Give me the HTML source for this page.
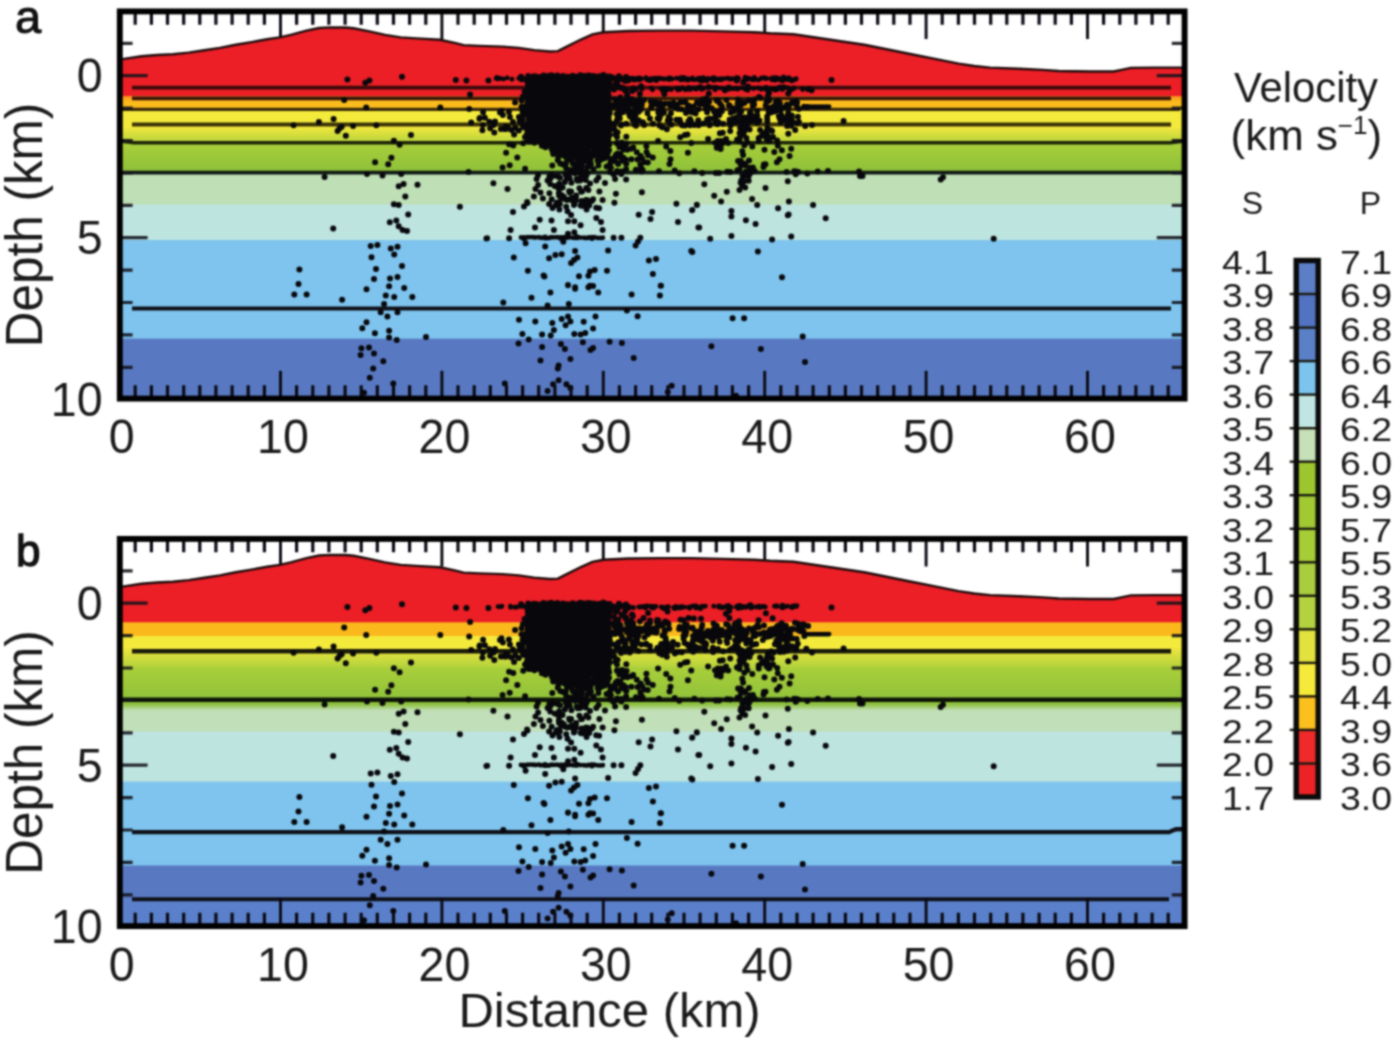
<!DOCTYPE html>
<html><head><meta charset="utf-8"><title>Velocity models</title>
<style>html,body{margin:0;padding:0;background:#fff}svg{display:block}</style></head>
<body>
<svg width="1400" height="1043" viewBox="0 0 1400 1043" font-family="'Liberation Sans', Arial, sans-serif" fill="#1a1a1a">
<defs>
<filter id="bl" x="0" y="0" width="1400" height="1043" filterUnits="userSpaceOnUse" color-interpolation-filters="sRGB"><feConvolveMatrix order="5" kernelMatrix="0.0016 0.0096 0.0176 0.0096 0.0016 0.0096 0.0576 0.1056 0.0576 0.0096 0.0176 0.1056 0.1936 0.1056 0.0176 0.0096 0.0576 0.1056 0.0576 0.0096 0.0016 0.0096 0.0176 0.0096 0.0016" edgeMode="duplicate" preserveAlpha="true"/></filter>
<linearGradient id="gOr" x1="0" y1="0" x2="0" y2="1"><stop offset="0" stop-color="#f58a20"/><stop offset="0.35" stop-color="#fbb81c"/><stop offset="1" stop-color="#fbc21c"/></linearGradient>
<linearGradient id="gYG" x1="0" y1="0" x2="0" y2="1"><stop offset="0" stop-color="#efe63e"/><stop offset="1" stop-color="#b2d23c"/></linearGradient>
<linearGradient id="gGr" x1="0" y1="0" x2="0" y2="1"><stop offset="0" stop-color="#aacf3a"/><stop offset="1" stop-color="#8cc03a"/></linearGradient>
<linearGradient id="gGP" x1="0" y1="0" x2="0" y2="1"><stop offset="0" stop-color="#8cc03a"/><stop offset="1" stop-color="#c1dfb8"/></linearGradient>
</defs>
<g filter="url(#bl)">
<rect width="1400" height="1043" fill="#fff"/>
<clipPath id="ca"><rect x="119.8" y="11.4" width="1064.8" height="387.20000000000005"/></clipPath>
<g clip-path="url(#ca)">
<rect x="117.8" y="20.0" width="1068.8" height="76.6" fill="#ec1e26"/>
<rect x="117.8" y="96.0" width="1068.8" height="14.1" fill="url(#gOr)"/>
<rect x="117.8" y="109.5" width="1068.8" height="19.1" fill="#f4ea3c"/>
<rect x="117.8" y="128.0" width="1068.8" height="15.2" fill="url(#gYG)"/>
<rect x="117.8" y="142.6" width="1068.8" height="30.5" fill="url(#gGr)"/>
<rect x="117.8" y="172.5" width="1068.8" height="32.6" fill="#bfdfb6"/>
<rect x="117.8" y="204.5" width="1068.8" height="36.1" fill="#bee4e0"/>
<rect x="117.8" y="240.0" width="1068.8" height="99.2" fill="#7ec4ee"/>
<rect x="117.8" y="338.6" width="1068.8" height="62.0" fill="#5879c2"/>
<polygon points="114.8,6.4 116.0,60.0 124.1,58.9 141.4,56.3 157.1,55.0 172.9,54.2 188.6,52.6 204.3,50.3 220.0,47.9 235.7,44.8 251.4,42.1 267.1,39.3 279.7,37.4 290.7,34.9 306.4,30.6 319.0,28.0 330.0,27.4 345.7,27.5 353.6,28.3 369.3,31.4 385.0,34.9 400.7,37.4 416.4,38.4 440.0,39.8 455.7,43.2 463.6,45.1 479.3,45.9 502.8,46.6 518.6,47.9 534.3,50.1 550.0,51.5 557.9,51.1 565.7,47.1 581.4,39.3 592.4,34.3 603.4,32.2 628.6,31.0 660.0,30.6 691.4,30.6 722.8,31.4 754.2,32.2 770.0,33.3 793.6,34.3 817.1,37.7 840.7,41.2 864.3,44.8 887.9,49.5 911.4,54.2 935.0,58.9 958.6,63.6 974.3,66.0 990.0,67.6 1019.3,68.8 1042.8,69.9 1058.6,71.0 1090.0,71.5 1113.6,71.5 1121.4,69.9 1130.8,67.9 1152.8,67.6 1190.0,67.6 1189.6,6.4" fill="#fff"/>
<path d="M280.5,13.4v25.6" stroke="#0a0a12" stroke-width="2.9" fill="none"/>
<path d="M441.9,13.4v25.6" stroke="#0a0a12" stroke-width="2.9" fill="none"/>
<path d="M603.3,13.4v25.6" stroke="#0a0a12" stroke-width="2.9" fill="none"/>
<path d="M764.7,13.4v25.6" stroke="#0a0a12" stroke-width="2.9" fill="none"/>
<path d="M926.1,13.4v25.6" stroke="#0a0a12" stroke-width="2.9" fill="none"/>
<path d="M1087.5,13.4v25.6" stroke="#0a0a12" stroke-width="2.9" fill="none"/>
<polygon points="116.0,60.0 124.1,58.9 141.4,56.3 157.1,55.0 172.9,54.2 188.6,52.6 204.3,50.3 220.0,47.9 235.7,44.8 251.4,42.1 267.1,39.3 279.7,37.4 290.7,34.9 306.4,30.6 319.0,28.0 330.0,27.4 345.7,27.5 353.6,28.3 369.3,31.4 385.0,34.9 400.7,37.4 416.4,38.4 440.0,39.8 455.7,43.2 463.6,45.1 479.3,45.9 502.8,46.6 518.6,47.9 534.3,50.1 550.0,51.5 557.9,51.1 565.7,47.1 581.4,39.3 592.4,34.3 603.4,32.2 628.6,31.0 660.0,30.6 691.4,30.6 722.8,31.4 754.2,32.2 770.0,33.3 793.6,34.3 817.1,37.7 840.7,41.2 864.3,44.8 887.9,49.5 911.4,54.2 935.0,58.9 958.6,63.6 974.3,66.0 990.0,67.6 1019.3,68.8 1042.8,69.9 1058.6,71.0 1090.0,71.5 1113.6,71.5 1121.4,69.9 1130.8,67.9 1152.8,67.6 1190.0,67.6 1189.6,82 114.8,82" fill="#ec1e26"/>
<polyline points="116.0,60.0 124.1,58.9 141.4,56.3 157.1,55.0 172.9,54.2 188.6,52.6 204.3,50.3 220.0,47.9 235.7,44.8 251.4,42.1 267.1,39.3 279.7,37.4 290.7,34.9 306.4,30.6 319.0,28.0 330.0,27.4 345.7,27.5 353.6,28.3 369.3,31.4 385.0,34.9 400.7,37.4 416.4,38.4 440.0,39.8 455.7,43.2 463.6,45.1 479.3,45.9 502.8,46.6 518.6,47.9 534.3,50.1 550.0,51.5 557.9,51.1 565.7,47.1 581.4,39.3 592.4,34.3 603.4,32.2 628.6,31.0 660.0,30.6 691.4,30.6 722.8,31.4 754.2,32.2 770.0,33.3 793.6,34.3 817.1,37.7 840.7,41.2 864.3,44.8 887.9,49.5 911.4,54.2 935.0,58.9 958.6,63.6 974.3,66.0 990.0,67.6 1019.3,68.8 1042.8,69.9 1058.6,71.0 1090.0,71.5 1113.6,71.5 1121.4,69.9 1130.8,67.9 1152.8,67.6 1190.0,67.6" fill="none" stroke="#1e0c0c" stroke-width="2.4"/>
<line x1="132" y1="87.7" x2="1171" y2="87.7" stroke="#3a0a0a" stroke-width="3.8"/>
<line x1="132" y1="98.4" x2="1171" y2="98.4" stroke="#3a1408" stroke-width="3.8"/>
<line x1="122" y1="109.3" x2="1180" y2="109.3" stroke="#3a2a08" stroke-width="3.2"/>
<line x1="132" y1="124.5" x2="1171" y2="124.5" stroke="#3a3208" stroke-width="3.8"/>
<polyline points="119.8,141 134,142.8 1170,142.8 1184.6,141" fill="none" stroke="#1c2208" stroke-width="3.4"/>
<line x1="119.8" y1="172.6" x2="1184.6" y2="172.6" stroke="#101a14" stroke-width="3.8"/>
<line x1="132" y1="308.5" x2="1171" y2="308.5" stroke="#0e1018" stroke-width="4.2"/>
</g>
<g clip-path="url(#ca)"><path d="M347.4,79.6h0M365.3,82.8h0M369.4,80.4h0M402.0,76.8h0M455.8,79.9h0M466.4,80.4h0M488.4,80.4h0M470.1,94.5h0M344.2,99.9h0M366.2,107.6h0M440.3,107.6h0M469.2,108.9h0M293.6,125.2h0M318.9,121.9h0M333.6,119.0h0M341.7,126.8h0M337.6,130.9h0M339.5,128.5h0M345.8,135.8h0M353.1,126.0h0M376.3,125.2h0M411.0,135.0h0M393.9,140.7h0M399.6,144.7h0M391.4,157.8h0M388.2,164.3h0M375.1,162.3h0M324.6,177.0h0M367.0,174.1h0M382.5,175.4h0M401.2,174.1h0M468.5,172.1h0M398.7,186.3h0M403.6,183.9h0M417.5,184.7h0M405.3,196.6h0M393.9,204.2h0M398.7,205.0h0M459.9,206.7h0M408.2,214.5h0M389.8,222.2h0M396.3,220.5h0M398.7,226.2h0M333.2,228.6h0M402.6,230.0h0M407.0,231.0h0M486.4,238.4h0M370.7,246.0h0M377.4,245.1h0M390.8,248.5h0M397.5,246.8h0M394.2,254.4h0M371.5,257.2h0M299.4,269.5h0M376.0,269.0h0M402.0,266.1h0M374.0,279.0h0M390.0,278.4h0M397.5,277.0h0M298.5,284.1h0M366.5,289.3h0M389.1,286.2h0M404.2,287.9h0M294.3,294.6h0M306.6,294.6h0M342.1,299.7h0M385.8,295.5h0M394.2,297.1h0M412.3,297.1h0M384.1,303.9h0M380.7,312.2h0M387.4,316.4h0M397.5,312.2h0M366.5,322.3h0M362.3,328.2h0M374.9,333.2h0M389.1,330.7h0M389.1,337.4h0M396.7,339.9h0M426.0,337.1h0M361.4,348.3h0M360.6,355.0h0M369.0,347.5h0M374.0,353.4h0M383.3,361.2h0M373.2,368.5h0M369.8,377.7h0M393.3,383.6h0M364.0,392.8h0M493.4,183.3h0M507.5,189.1h0M538.1,185.1h0M536.6,178.9h0M547.6,180.4h0M558.6,186.7h0M564.9,182.0h0M571.1,191.4h0M577.4,180.4h0M582.1,191.4h0M590.0,183.6h0M596.3,180.4h0M599.4,191.4h0M615.1,178.9h0M626.1,179.6h0M621.4,174.1h0M615.9,193.8h0M641.9,192.2h0M542.9,198.5h0M549.1,204.0h0M557.0,202.4h0M559.4,209.5h0M569.6,199.3h0M574.3,204.0h0M580.6,205.6h0M586.9,202.4h0M593.1,199.3h0M602.6,200.1h0M614.4,202.7h0M676.4,203.7h0M696.8,204.8h0M692.1,210.3h0M527.1,202.1h0M524.0,206.4h0M513.0,211.9h0M638.7,214.7h0M652.1,211.9h0M650.5,218.9h0M571.1,215.0h0M568.0,221.3h0M574.3,221.3h0M580.6,225.2h0M596.3,218.1h0M601.0,222.1h0M539.7,219.7h0M535.0,227.6h0M551.5,220.5h0M553.9,229.9h0M678.0,222.1h0M698.4,227.6h0M510.6,229.9h0M602.6,229.9h0M487.1,238.3h0M509.1,238.3h0M574.3,232.3h0M568.0,233.8h0M613.6,237.8h0M621.4,237.8h0M640.3,237.8h0M635.6,245.6h0M638.0,241.5h0M525.6,243.3h0M545.2,246.4h0M563.3,241.7h0M608.1,250.4h0M691.3,251.1h0M513.8,257.4h0M549.1,258.2h0M555.4,255.1h0M561.7,254.3h0M575.1,251.1h0M577.4,257.4h0M571.1,262.9h0M574.0,260.0h0M648.9,260.6h0M656.0,259.0h0M527.9,270.8h0M543.6,275.5h0M579.0,276.3h0M590.0,271.6h0M594.7,270.0h0M607.0,270.8h0M652.9,273.9h0M568.0,284.9h0M575.1,287.3h0M590.0,285.7h0M660.7,285.7h0M544.4,276.6h0M588.4,275.8h0M568.0,285.2h0M575.1,288.8h0M588.4,287.3h0M593.1,286.0h0M598.2,292.6h0M661.0,285.7h0M659.9,295.4h0M550.4,292.6h0M531.5,297.8h0M631.6,294.6h0M503.3,302.5h0M547.6,305.6h0M568.8,304.1h0M626.9,310.4h0M637.6,316.2h0M519.0,319.8h0M535.3,321.4h0M595.5,316.6h0M561.7,319.0h0M568.0,316.6h0M565.6,325.3h0M570.4,321.4h0M552.3,322.9h0M553.9,330.0h0M550.7,335.5h0M583.7,321.8h0M593.1,328.4h0M522.4,333.9h0M528.7,339.4h0M542.1,334.4h0M574.3,333.9h0M580.6,334.4h0M585.3,333.1h0M518.5,343.4h0M542.1,347.0h0M560.9,344.1h0M564.9,348.9h0M582.9,342.3h0M593.1,348.1h0M590.5,350.0h0M609.6,341.8h0M621.9,342.9h0M633.7,358.0h0M540.5,360.6h0M570.4,359.1h0M558.6,365.4h0M557.8,368.5h0M558.6,380.3h0M553.1,384.2h0M566.4,384.2h0M570.4,388.1h0M547.6,391.0h0M504.8,383.4h0M671.7,385.8h0M667.8,392.1h0M704.3,184.2h0M714.2,195.7h0M721.1,201.4h0M726.8,191.7h0M739.5,189.9h0M745.2,187.6h0M748.7,180.7h0M748.7,176.1h0M765.5,188.1h0M787.8,181.2h0M752.1,199.1h0M757.2,204.9h0M788.9,201.4h0M778.1,208.3h0M787.8,215.2h0M788.6,214.4h0M813.1,204.9h0M825.7,218.2h0M696.9,204.9h0M692.3,210.1h0M731.4,211.1h0M731.4,216.4h0M745.9,220.3h0M755.6,224.0h0M699.2,227.4h0M710.2,238.7h0M731.4,235.9h0M772.1,239.4h0M791.2,236.4h0M692.3,252.0h0M757.9,251.6h0M782.0,277.3h0M732.6,318.3h0M744.1,318.3h0M802.7,336.4h0M711.4,346.3h0M760.9,349.1h0M805.0,362.0h0M862.5,176.1h0M859.1,171.5h0M940.7,179.6h0M943.0,177.3h0M993.7,238.7h0M730.3,172.0h0M786.6,172.0h0M798.1,172.0h0M807.3,173.5h0M817.7,171.5h0M828.0,171.0h0M736.0,395.8h0M831.5,79.9h0M860.0,176.0h0M524.0,238.2h0M545.0,237.4h0M561.0,238.0h0M577.0,237.2h0M592.0,238.0h0M843.6,121.0h0M812.0,125.0h0M777.2,140.5h0M763.0,134.5h0M528.2,75.9h0M531.7,76.9h0M533.9,76.3h0M536.1,76.4h0M540.3,77.0h0M543.6,75.6h0M545.8,76.3h0M548.0,75.9h0M551.3,75.2h0M554.1,76.5h0M557.3,75.5h0M560.8,76.7h0M563.2,75.9h0M567.1,76.8h0M570.6,76.7h0M572.6,75.8h0M575.7,76.8h0M579.9,75.3h0M581.4,75.5h0M584.5,76.0h0M588.2,75.5h0M590.0,75.8h0M593.7,76.1h0M597.9,76.4h0M600.0,76.2h0M603.4,75.1h0M606.8,76.6h0M609.7,76.6h0M527.8,78.8h0M530.2,79.3h0M533.1,78.1h0M536.4,78.3h0M539.7,78.1h0M542.0,78.3h0M545.2,78.7h0M548.1,79.7h0M552.2,78.3h0M554.5,78.7h0M557.7,78.2h0M561.7,80.0h0M563.9,79.0h0M566.2,78.2h0M569.7,78.5h0M573.7,78.3h0M575.0,79.9h0M579.1,78.3h0M582.1,78.1h0M585.1,80.0h0M588.7,79.4h0M590.5,78.7h0M593.3,79.5h0M597.1,79.6h0M599.7,78.4h0M603.6,80.0h0M606.7,79.6h0M609.6,79.5h0M527.5,82.0h0M530.7,81.1h0M533.1,81.6h0M536.5,82.4h0M540.9,81.9h0M543.9,83.0h0M546.9,81.7h0M548.4,81.5h0M551.4,81.4h0M555.2,82.8h0M558.7,82.0h0M561.3,82.6h0M563.2,82.3h0M567.8,82.6h0M570.5,82.0h0M572.4,82.6h0M575.7,82.6h0M579.9,81.8h0M581.8,82.9h0M585.4,81.3h0M587.3,81.3h0M591.8,82.6h0M593.3,82.7h0M598.0,82.3h0M599.7,82.1h0M602.3,81.0h0M606.9,82.3h0M609.1,82.9h0M527.9,85.7h0M531.7,84.4h0M533.5,84.6h0M536.5,85.2h0M539.5,84.8h0M542.3,85.8h0M545.7,84.9h0M549.2,85.8h0M551.8,85.8h0M555.0,85.1h0M558.0,84.0h0M560.9,84.4h0M563.0,85.6h0M566.3,84.9h0M570.5,85.1h0M572.7,85.0h0M576.1,85.6h0M578.2,85.1h0M581.5,84.6h0M585.5,85.0h0M588.1,85.5h0M591.8,84.9h0M594.2,85.0h0M597.0,85.4h0M599.9,85.1h0M603.0,85.9h0M606.4,85.8h0M609.9,84.5h0M528.1,88.9h0M531.7,87.3h0M533.2,87.9h0M536.1,87.5h0M539.1,88.3h0M543.6,88.8h0M545.3,88.4h0M549.3,87.3h0M552.8,88.9h0M554.4,88.9h0M557.8,88.0h0M562.0,88.7h0M563.3,87.9h0M567.0,87.7h0M569.4,87.6h0M573.4,87.0h0M576.1,87.9h0M578.0,87.7h0M582.2,88.0h0M584.1,89.0h0M588.6,88.9h0M590.2,87.5h0M593.1,88.6h0M596.5,87.3h0M599.8,88.8h0M603.6,87.5h0M605.3,88.8h0M609.1,88.4h0M527.2,90.1h0M531.4,90.9h0M533.1,91.9h0M537.3,91.6h0M539.2,91.7h0M542.1,91.7h0M545.9,90.7h0M549.1,91.9h0M551.5,90.3h0M555.1,90.5h0M557.2,90.3h0M560.1,90.4h0M563.6,90.6h0M567.5,90.6h0M570.0,90.4h0M572.7,90.0h0M575.5,90.0h0M579.5,91.1h0M581.4,90.9h0M585.9,90.2h0M588.6,90.9h0M591.0,91.7h0M593.8,91.0h0M597.4,92.0h0M599.7,91.7h0M603.4,91.3h0M605.8,90.7h0M608.1,90.3h0M527.1,94.5h0M530.5,93.3h0M533.2,94.7h0M537.7,94.3h0M539.6,93.5h0M542.6,93.9h0M545.3,93.9h0M548.5,94.9h0M552.9,94.1h0M554.5,94.9h0M557.6,93.7h0M560.0,93.8h0M563.9,94.0h0M566.4,94.0h0M569.0,93.5h0M572.2,93.8h0M575.1,93.0h0M578.6,93.5h0M582.2,94.1h0M585.5,94.3h0M588.4,94.8h0M590.8,93.7h0M595.0,93.3h0M597.4,94.3h0M599.1,94.7h0M603.8,94.3h0M606.5,94.6h0M608.3,94.0h0M528.0,97.7h0M531.6,97.7h0M534.2,97.8h0M537.4,97.4h0M539.5,96.1h0M542.3,96.7h0M545.2,97.7h0M549.1,97.3h0M552.3,97.4h0M555.0,96.0h0M558.6,97.5h0M561.0,97.1h0M564.3,96.1h0M567.5,96.5h0M569.1,96.5h0M573.5,96.4h0M576.5,98.0h0M579.0,96.8h0M582.0,97.4h0M585.5,97.2h0M588.3,96.2h0M590.3,96.5h0M594.5,96.6h0M597.1,96.0h0M599.1,96.5h0M603.3,97.4h0M606.4,96.6h0M609.0,96.9h0M527.9,99.2h0M531.8,99.4h0M535.0,100.9h0M536.0,99.9h0M540.6,100.9h0M542.9,99.5h0M545.4,100.9h0M548.4,100.2h0M551.3,100.0h0M555.9,99.3h0M558.6,100.0h0M561.8,100.4h0M563.5,100.8h0M567.0,99.0h0M569.0,100.0h0M572.9,99.6h0M575.3,99.7h0M578.6,100.7h0M581.0,100.5h0M585.7,99.2h0M588.9,100.4h0M591.8,99.6h0M593.7,99.8h0M598.0,100.2h0M599.7,99.9h0M602.6,99.1h0M605.2,100.7h0M608.6,100.9h0M527.5,102.5h0M531.0,102.4h0M533.7,103.9h0M537.8,103.6h0M540.3,103.8h0M543.9,103.1h0M546.4,102.1h0M549.5,102.9h0M552.5,103.3h0M554.6,102.1h0M558.9,102.3h0M560.9,102.7h0M563.6,103.5h0M568.0,102.5h0M570.3,102.6h0M573.1,102.8h0M575.3,102.3h0M578.4,103.8h0M582.0,102.4h0M585.8,104.0h0M587.9,102.3h0M590.4,102.2h0M593.7,102.2h0M596.5,102.5h0M600.1,103.8h0M603.5,102.8h0M605.8,103.0h0M608.8,102.7h0M527.1,105.6h0M531.9,105.3h0M534.0,106.3h0M537.7,105.4h0M539.5,105.5h0M542.8,105.9h0M546.9,106.7h0M549.7,105.0h0M551.1,106.4h0M555.8,105.9h0M558.2,105.0h0M560.8,106.9h0M564.7,106.7h0M567.9,105.5h0M569.2,105.3h0M573.0,106.4h0M576.9,106.4h0M579.3,106.5h0M581.9,106.1h0M584.1,106.6h0M587.5,106.8h0M591.3,105.6h0M593.3,105.5h0M597.3,106.4h0M599.2,105.1h0M603.0,106.2h0M605.8,105.4h0M609.2,105.0h0M527.6,108.9h0M531.9,109.3h0M534.8,109.0h0M536.5,108.5h0M540.9,109.4h0M542.6,108.0h0M546.0,109.3h0M548.8,108.5h0M552.3,109.9h0M554.5,108.1h0M557.7,108.8h0M561.4,108.4h0M564.6,109.5h0M567.0,108.4h0M570.9,108.6h0M573.6,108.5h0M575.4,109.5h0M578.6,109.9h0M582.0,108.4h0M584.4,108.8h0M588.3,109.9h0M590.3,108.8h0M593.4,109.9h0M596.3,108.1h0M599.1,108.8h0M603.8,109.8h0M606.5,110.0h0M609.9,108.7h0M527.4,112.9h0M531.5,111.1h0M534.3,111.8h0M536.7,111.7h0M539.3,111.0h0M542.6,111.7h0M546.9,111.2h0M549.9,111.4h0M551.7,112.6h0M555.6,111.9h0M557.1,111.9h0M560.7,112.8h0M563.4,111.7h0M567.8,111.1h0M569.8,112.6h0M573.5,111.1h0M575.1,111.1h0M579.8,111.5h0M582.5,112.8h0M584.7,111.5h0M588.9,112.2h0M590.5,112.4h0M593.6,111.6h0M596.0,112.5h0M600.8,112.3h0M603.9,111.0h0M605.5,112.0h0M609.9,112.9h0M527.8,114.5h0M530.9,115.0h0M534.9,114.4h0M537.6,115.5h0M540.6,115.5h0M543.2,114.7h0M545.6,114.7h0M549.6,114.2h0M551.4,115.5h0M554.5,114.1h0M557.1,115.1h0M560.7,116.0h0M564.8,116.0h0M566.5,114.2h0M569.2,115.0h0M573.4,114.9h0M575.5,114.8h0M579.2,115.3h0M582.5,115.7h0M585.3,114.2h0M588.7,114.6h0M591.1,114.7h0M594.5,114.4h0M596.5,114.5h0M599.3,115.8h0M603.2,114.7h0M605.8,116.0h0M609.0,114.5h0M528.6,118.3h0M532.0,117.2h0M533.9,118.6h0M537.7,118.8h0M539.1,117.6h0M542.2,117.4h0M546.9,118.2h0M549.9,117.7h0M552.7,117.9h0M554.5,118.6h0M558.9,117.2h0M561.2,118.2h0M563.4,117.7h0M566.3,117.4h0M569.5,118.2h0M573.3,117.4h0M575.0,117.7h0M579.4,117.4h0M581.6,117.4h0M585.6,118.1h0M587.1,117.2h0M590.8,118.1h0M594.3,117.2h0M596.3,118.4h0M599.8,117.6h0M602.6,118.9h0M605.6,118.1h0M608.7,117.8h0M528.7,122.0h0M530.7,120.4h0M534.5,120.4h0M536.0,121.8h0M539.8,121.6h0M542.8,121.8h0M545.9,120.3h0M548.0,121.1h0M552.3,121.8h0M554.2,121.2h0M557.7,121.0h0M560.3,120.6h0M564.0,121.9h0M566.2,121.0h0M570.6,121.9h0M572.4,120.3h0M576.9,122.0h0M579.0,120.1h0M582.9,120.8h0M585.8,121.2h0M588.6,120.3h0M591.6,120.4h0M593.8,121.7h0M597.7,120.4h0M599.4,120.8h0M603.0,120.8h0M605.2,120.5h0M609.4,121.8h0M527.1,124.1h0M531.5,123.1h0M534.7,123.2h0M537.2,124.1h0M540.3,123.6h0M542.8,124.2h0M545.9,124.3h0M548.9,123.9h0M551.0,124.2h0M555.0,123.5h0M558.5,124.6h0M560.9,123.4h0M563.9,123.2h0M566.3,123.9h0M569.2,123.9h0M573.0,123.1h0M576.3,123.2h0M579.5,124.6h0M582.0,123.1h0M585.0,123.8h0M588.9,123.3h0M591.7,125.0h0M594.5,124.6h0M596.4,125.0h0M600.0,124.9h0M603.8,123.3h0M606.6,124.9h0M608.1,123.7h0M528.5,126.3h0M531.8,126.5h0M534.6,126.3h0M537.0,127.8h0M539.4,126.5h0M543.0,126.6h0M545.1,126.4h0M548.3,127.9h0M552.4,127.8h0M554.3,127.6h0M557.2,127.1h0M561.3,126.7h0M564.7,127.1h0M567.2,127.8h0M569.2,128.0h0M573.3,126.8h0M576.6,126.5h0M580.0,127.2h0M581.7,127.5h0M584.9,126.4h0M588.5,126.1h0M591.6,126.5h0M594.3,128.0h0M597.2,127.3h0M599.6,126.0h0M602.1,126.3h0M606.2,126.9h0M609.0,127.8h0M527.3,129.5h0M531.3,129.0h0M533.0,129.7h0M536.2,129.7h0M539.4,130.2h0M543.2,129.4h0M546.2,129.9h0M548.3,130.9h0M551.5,129.3h0M554.2,130.3h0M558.7,130.6h0M560.8,129.5h0M563.0,130.3h0M567.1,129.7h0M570.3,129.9h0M573.9,130.5h0M575.5,130.8h0M578.1,130.1h0M581.8,129.5h0M584.1,130.6h0M587.0,130.1h0M591.9,129.3h0M593.4,130.2h0M597.0,130.3h0M600.6,129.3h0M602.6,129.6h0M605.1,130.8h0M609.6,130.4h0M527.0,133.7h0M531.5,132.9h0M534.5,132.9h0M536.5,132.2h0M539.5,132.1h0M542.7,133.5h0M546.4,133.7h0M549.4,132.5h0M552.1,132.9h0M555.6,133.0h0M557.5,133.3h0M561.9,132.4h0M564.8,132.0h0M566.5,132.5h0M570.5,133.9h0M573.5,132.7h0M576.8,132.7h0M578.5,133.8h0M582.3,133.4h0M585.3,134.0h0M587.9,133.7h0M591.4,133.7h0M593.9,133.4h0M597.1,132.6h0M599.4,133.2h0M602.2,133.8h0M605.3,132.1h0M608.2,133.9h0M527.7,135.3h0M530.1,135.1h0M534.4,136.3h0M537.4,136.5h0M539.1,136.2h0M542.7,136.6h0M546.6,136.8h0M548.1,136.7h0M552.8,136.9h0M554.2,135.4h0M557.2,135.1h0M561.7,136.6h0M564.3,136.7h0M567.3,135.6h0M569.2,135.2h0M573.5,135.4h0M575.6,135.8h0M578.0,135.5h0M581.6,136.4h0M584.7,135.6h0M588.9,136.0h0M591.7,136.2h0M593.1,135.8h0M596.9,136.5h0M599.7,136.4h0M603.1,135.4h0M606.7,135.2h0M609.6,135.3h0M527.0,138.4h0M531.5,140.0h0M533.0,139.0h0M537.0,139.6h0M539.4,139.0h0M542.7,139.7h0M545.5,139.9h0M548.6,138.4h0M552.4,139.0h0M554.2,139.3h0M557.2,139.6h0M561.4,139.6h0M564.3,138.7h0M566.8,138.8h0M570.8,138.2h0M573.8,138.1h0M575.4,138.5h0M579.8,139.0h0M581.8,139.8h0M584.5,138.9h0M588.1,139.5h0M591.5,139.3h0M593.7,138.7h0M596.3,139.7h0M600.3,139.5h0M602.3,138.9h0M606.5,139.2h0M608.3,138.9h0M528.8,141.5h0M530.4,141.6h0M534.4,142.7h0M536.3,141.3h0M539.5,141.7h0M543.0,141.3h0M545.7,141.4h0M550.0,142.5h0M551.2,142.9h0M554.2,141.8h0M559.0,142.6h0M561.5,141.9h0M563.4,142.3h0M566.2,141.4h0M569.8,141.1h0M572.8,142.6h0M576.4,142.0h0M579.3,141.9h0M581.3,142.2h0M584.8,142.5h0M588.8,141.9h0M591.1,142.5h0M593.8,141.5h0M597.4,142.8h0M600.5,142.4h0M603.7,142.4h0M606.3,141.9h0M608.6,142.3h0M541.9,145.8h0M545.5,144.3h0M548.0,145.4h0M551.7,146.3h0M554.6,145.8h0M557.1,146.4h0M560.3,144.0h0M564.5,145.1h0M566.4,145.1h0M569.2,145.4h0M574.9,146.3h0M578.7,144.7h0M580.0,146.5h0M582.8,144.3h0M585.7,144.8h0M590.7,144.6h0M592.3,145.7h0M598.3,145.9h0M601.3,143.9h0M606.1,145.4h0M545.5,147.2h0M551.7,149.0h0M556.7,148.1h0M561.3,147.6h0M566.0,147.3h0M568.4,146.5h0M571.7,147.2h0M575.3,147.8h0M578.8,147.6h0M588.3,149.2h0M594.3,148.4h0M594.9,149.4h0M598.6,146.8h0M601.5,148.8h0M604.3,149.2h0M552.7,151.3h0M558.7,151.9h0M564.1,151.1h0M570.7,151.2h0M571.7,149.9h0M574.2,150.9h0M578.5,151.0h0M582.6,149.5h0M587.7,151.5h0M593.3,152.4h0M596.9,151.4h0M599.9,151.5h0M553.2,154.0h0M555.9,152.6h0M560.2,155.1h0M563.7,154.1h0M569.5,153.8h0M573.7,153.4h0M578.7,153.3h0M583.2,154.5h0M587.2,153.4h0M591.1,154.9h0M594.4,155.2h0M595.4,153.4h0M598.8,155.3h0M603.2,154.9h0M558.3,157.4h0M564.5,156.1h0M566.8,157.8h0M569.0,155.6h0M578.5,158.0h0M584.2,156.4h0M587.4,156.8h0M592.2,155.7h0M592.6,155.9h0M601.2,156.8h0M557.8,160.3h0M566.9,158.8h0M569.3,159.0h0M571.6,160.6h0M577.5,158.8h0M580.7,160.7h0M585.8,159.1h0M589.0,160.6h0M597.5,160.6h0M601.4,159.3h0M565.9,163.5h0M572.8,163.7h0M577.4,163.0h0M578.9,163.2h0M582.9,161.9h0M588.8,163.4h0M591.0,163.9h0M563.9,164.7h0M576.9,167.4h0M582.0,165.8h0M589.1,166.3h0M566.2,168.3h0M571.0,169.9h0M577.7,169.9h0M582.1,170.1h0M593.5,169.2h0M574.7,173.3h0M577.3,172.5h0M579.1,171.3h0M587.7,172.9h0M609.2,144.8h0M562.9,164.6h0M576.4,157.7h0M572.0,150.1h0M592.3,145.9h0M559.0,146.7h0M571.9,155.1h0M577.8,150.3h0M573.1,155.3h0M553.3,147.4h0M590.4,159.9h0M567.8,157.6h0M583.5,156.0h0M626.6,143.4h0M549.1,144.6h0M576.1,144.4h0M552.3,165.5h0M582.3,157.1h0M587.7,166.9h0M593.9,145.3h0M583.0,145.1h0M605.0,147.9h0M595.2,148.2h0M617.6,153.5h0M602.8,152.3h0M570.7,149.9h0M595.4,146.9h0M549.2,145.5h0M608.0,150.3h0M560.8,148.2h0M606.1,151.8h0M585.6,171.5h0M596.7,143.5h0M549.6,145.4h0M598.4,165.5h0M607.2,157.0h0M571.6,149.7h0M583.9,161.2h0M603.5,143.4h0M600.1,160.2h0M570.8,150.3h0M579.4,159.6h0M571.8,149.1h0M594.8,152.0h0M585.7,153.5h0M597.4,151.4h0M604.5,158.3h0M581.1,144.6h0M593.1,146.3h0M619.3,147.0h0M586.8,153.5h0M569.8,147.6h0M618.9,144.9h0M565.0,153.8h0M560.4,153.3h0M560.3,163.4h0M589.0,145.6h0M609.1,150.2h0M568.3,150.2h0M591.3,145.4h0M569.0,150.4h0M573.4,147.0h0M575.5,167.7h0M561.1,149.8h0M588.6,143.6h0M586.5,146.7h0M606.8,143.6h0M583.9,154.8h0M576.1,157.4h0M626.5,148.8h0M609.9,171.9h0M635.9,169.8h0M626.1,169.0h0M624.9,144.7h0M621.3,171.4h0M617.1,143.5h0M623.9,147.1h0M616.9,143.1h0M625.6,148.4h0M615.6,155.6h0M625.6,159.6h0M619.8,147.0h0M626.4,163.6h0M631.3,148.7h0M624.3,160.6h0M623.2,157.4h0M621.4,160.8h0M626.0,163.5h0M625.0,148.9h0M549.4,176.4h0M567.2,200.0h0M552.7,176.0h0M574.4,204.3h0M555.6,205.1h0M566.2,206.8h0M569.1,191.2h0M577.7,180.7h0M559.9,203.9h0M562.6,187.4h0M576.1,195.4h0M588.4,190.0h0M569.6,192.6h0M587.4,203.4h0M586.4,205.2h0M558.1,187.7h0M591.8,201.0h0M599.1,208.3h0M581.2,191.8h0M549.4,193.3h0M567.4,174.7h0M580.1,180.6h0M566.7,177.7h0M568.9,175.1h0M598.5,177.5h0M565.7,174.6h0M559.0,195.6h0M551.7,199.3h0M560.0,177.7h0M586.4,175.6h0M550.4,178.4h0M550.2,184.1h0M569.8,178.4h0M561.8,195.3h0M573.9,205.0h0M581.6,200.9h0M585.7,179.9h0M586.3,188.0h0M535.5,189.1h0M579.4,188.2h0M552.5,207.9h0M571.4,182.7h0M554.7,186.1h0M527.5,203.0h0M586.8,206.9h0M581.3,175.9h0M540.5,192.6h0M605.0,183.0h0M559.2,189.2h0M558.8,193.1h0M557.7,176.5h0M551.7,174.7h0M576.7,179.0h0M596.2,207.7h0M563.8,196.8h0M581.1,205.8h0M538.0,175.2h0M561.1,198.4h0M559.2,183.8h0M533.9,196.4h0M571.6,200.0h0M567.5,211.2h0M575.8,200.6h0M572.6,197.9h0M589.2,205.5h0M587.4,200.3h0M574.1,203.5h0M572.0,198.0h0M575.9,198.1h0M574.5,200.6h0M585.9,199.9h0M586.6,209.4h0M582.9,205.8h0M565.2,199.2h0M522.9,125.7h0M519.9,118.9h0M524.5,108.8h0M524.6,91.5h0M522.5,111.9h0M521.1,76.8h0M521.6,100.7h0M523.6,115.0h0M523.2,110.4h0M522.8,96.7h0M511.5,130.0h0M525.0,137.0h0M524.4,106.8h0M521.4,106.8h0M524.1,127.5h0M523.2,143.2h0M515.1,102.5h0M501.5,110.8h0M513.0,121.9h0M518.9,130.5h0M507.6,127.0h0M515.3,127.9h0M506.2,129.0h0M514.1,134.4h0M494.3,132.6h0M490.1,128.2h0M509.9,116.9h0M522.7,120.0h0M504.2,128.9h0M519.7,121.5h0M502.9,115.0h0M505.6,126.4h0M500.0,112.4h0M508.9,112.1h0M500.9,129.1h0M518.9,117.0h0M513.3,145.5h0M509.1,144.3h0M517.3,157.4h0M502.6,167.6h0M509.7,165.3h0M525.1,168.8h0M506.1,152.8h0M527.3,140.3h0M471.2,122.4h0M482.4,130.2h0M489.3,121.8h0M495.0,121.4h0M482.9,125.1h0M479.7,117.9h0M484.9,117.7h0M493.7,124.9h0M483.1,112.2h0M479.4,118.8h0M618.0,117.5h0M633.2,147.4h0M623.2,112.0h0M627.3,149.7h0M618.7,101.4h0M632.9,88.6h0M616.8,99.5h0M633.4,113.9h0M615.8,84.2h0M626.3,136.7h0M623.4,149.3h0M621.8,87.6h0M620.4,97.5h0M626.0,89.9h0M614.0,89.5h0M623.2,102.1h0M623.9,149.5h0M615.1,106.4h0M615.4,134.3h0M618.9,76.3h0M628.8,98.5h0M621.0,125.4h0M625.2,90.6h0M627.0,95.7h0M613.2,123.9h0M649.9,118.5h0M620.4,106.4h0M617.6,132.2h0M617.4,83.9h0M618.4,114.7h0M617.0,136.9h0M628.1,80.6h0M626.0,76.9h0M614.3,128.9h0M622.6,102.2h0M617.2,83.4h0M620.6,142.9h0M621.9,109.3h0M618.0,104.5h0M634.8,119.1h0M620.8,147.0h0M627.2,94.5h0M618.7,79.3h0M632.6,99.3h0M622.1,142.5h0M616.8,120.6h0M621.6,147.0h0M639.9,94.0h0M613.8,104.8h0M614.5,98.9h0M644.4,162.1h0M640.7,156.1h0M612.8,159.0h0M613.4,174.3h0M618.1,164.0h0M610.2,163.3h0M622.4,160.1h0M607.9,153.1h0M642.2,158.8h0M616.0,154.8h0M617.8,155.9h0M606.6,166.6h0M620.4,153.9h0M636.8,152.3h0M617.1,170.9h0M610.8,161.1h0M642.6,170.1h0M612.2,158.8h0M637.5,159.4h0M648.1,155.2h0M647.8,162.6h0M615.2,161.3h0M610.9,167.7h0M616.7,172.5h0M631.4,159.2h0M739.9,137.7h0M740.6,182.8h0M741.0,128.8h0M737.4,139.5h0M742.5,175.6h0M738.1,160.9h0M747.4,142.4h0M741.5,132.7h0M744.2,181.3h0M740.1,127.8h0M749.0,160.5h0M739.6,141.4h0M747.1,124.7h0M741.8,129.1h0M746.0,171.6h0M742.1,185.4h0M747.5,175.8h0M749.6,129.5h0M737.0,139.9h0M749.7,167.8h0M744.3,145.3h0M737.4,170.3h0M746.4,137.9h0M745.4,165.3h0M739.6,133.1h0M750.4,172.9h0M749.6,171.3h0M744.2,131.7h0M743.3,134.3h0M741.6,122.8h0M747.2,142.4h0M741.2,180.4h0M740.8,161.1h0M742.3,151.3h0M739.6,169.3h0M742.9,180.1h0M743.2,175.9h0M742.7,181.5h0M744.3,163.7h0M746.2,128.0h0M721.9,143.7h0M723.2,142.5h0M729.6,122.6h0M719.6,142.4h0M717.2,144.9h0M720.7,148.4h0M722.7,132.7h0M726.6,142.2h0M718.4,144.9h0M718.0,121.6h0M717.8,140.9h0M716.7,147.8h0M723.1,123.8h0M721.1,141.1h0M719.8,144.2h0M720.6,149.1h0M726.0,139.1h0M718.1,121.8h0M768.8,141.1h0M766.6,139.0h0M772.1,131.1h0M767.6,135.7h0M761.4,135.9h0M763.5,167.1h0M769.4,140.8h0M766.2,131.4h0M781.9,150.3h0M764.5,149.7h0M779.5,159.2h0M774.3,151.9h0M777.8,145.8h0M771.1,130.2h0M758.7,138.0h0M767.4,127.7h0M684.9,135.1h0M752.3,146.6h0M658.1,140.9h0M715.0,142.7h0M666.9,129.3h0M641.7,171.6h0M760.1,129.9h0M754.7,171.1h0M730.2,131.0h0M718.2,146.0h0M670.4,151.0h0M641.3,168.3h0M743.1,154.9h0M789.6,156.0h0M680.2,137.3h0M662.2,127.3h0M763.9,164.6h0M687.4,134.5h0M742.1,164.9h0M788.3,133.7h0M765.5,164.2h0M758.8,141.0h0M669.5,164.0h0M691.2,143.0h0M728.2,143.0h0M773.0,137.0h0M646.6,152.1h0M740.5,163.7h0M752.9,167.6h0M791.2,148.7h0M719.9,133.2h0M687.9,152.7h0M652.8,157.6h0M666.2,146.4h0M795.2,130.1h0M646.4,146.2h0M670.5,159.3h0M640.4,164.7h0M776.9,162.2h0M708.1,139.0h0M749.2,173.0h0M727.2,171.7h0M715.8,172.9h0M749.9,173.5h0M674.7,170.6h0M694.4,171.3h0M702.2,173.0h0M679.3,173.3h0M719.1,173.0h0M795.7,174.2h0M796.2,171.4h0M794.3,171.2h0M659.0,171.3h0M751.5,171.9h0M609.7,79.5h0M626.5,79.7h0M780.9,79.5h0M634.1,79.4h0M637.6,78.9h0M736.8,80.6h0M782.3,80.2h0M743.3,82.4h0M611.4,76.9h0M650.3,80.1h0M612.3,77.4h0M702.4,79.7h0M625.2,81.0h0M608.8,80.7h0M774.6,79.4h0M628.2,78.7h0M687.7,79.6h0M639.5,79.2h0M747.5,78.8h0M701.6,80.5h0M700.8,80.3h0M782.3,78.9h0M791.7,80.3h0M775.4,79.4h0M639.2,78.4h0M656.1,79.9h0M703.2,79.7h0M683.8,78.3h0M607.0,79.0h0M737.8,78.5h0M779.9,87.5h0M790.1,89.9h0M700.0,87.2h0M776.9,89.1h0M746.1,88.9h0M620.1,87.5h0M748.0,86.6h0M766.0,88.1h0M635.6,89.1h0M775.5,89.6h0M632.3,91.1h0M724.9,90.3h0M623.0,88.0h0M708.6,86.9h0M623.0,88.4h0M728.8,87.5h0M811.6,90.2h0M641.1,86.2h0M678.9,88.8h0M809.7,89.0h0M666.9,88.9h0M663.0,90.3h0M783.8,87.3h0M696.0,88.4h0M622.0,101.2h0M769.2,107.9h0M779.9,102.9h0M622.2,104.7h0M717.2,101.0h0M707.8,105.1h0M726.4,99.9h0M651.3,106.5h0M792.2,102.2h0M673.6,102.7h0M716.5,100.2h0M675.4,104.8h0M665.6,103.6h0M751.3,100.9h0M769.3,100.6h0M795.2,101.4h0M699.2,103.6h0M697.0,102.4h0M737.3,107.9h0M626.1,104.6h0M728.9,105.5h0M722.0,108.3h0M768.9,99.1h0M744.3,103.0h0M669.8,104.2h0M640.6,107.8h0M791.9,103.3h0M630.7,104.2h0M765.7,105.6h0M741.1,102.2h0M662.5,106.3h0M642.3,100.8h0M623.1,102.7h0M775.9,102.3h0M669.6,103.4h0M674.5,106.4h0M721.9,106.3h0M675.6,107.7h0M776.9,105.7h0M804.1,106.8h0M688.7,105.5h0M737.6,103.5h0M655.8,101.9h0M703.0,102.7h0M754.7,99.5h0M634.4,104.7h0M774.4,107.2h0M807.2,107.1h0M796.1,100.9h0M680.2,102.6h0M759.1,97.0h0M630.2,103.1h0M707.0,105.3h0M718.0,100.4h0M629.3,104.3h0M787.0,104.6h0M777.7,103.8h0M618.4,108.9h0M729.4,105.3h0M797.1,102.5h0M740.7,105.2h0M700.1,103.7h0M660.5,102.9h0M766.4,101.4h0M670.5,106.0h0M630.8,104.4h0M720.1,103.8h0M702.4,99.6h0M618.6,101.8h0M738.8,102.9h0M637.9,100.9h0M685.4,101.9h0M742.0,103.8h0M796.5,104.4h0M677.0,105.9h0M706.1,98.6h0M641.2,107.4h0M634.9,106.0h0M709.2,101.7h0M703.7,102.7h0M644.1,100.0h0M683.9,102.3h0M650.8,101.6h0M636.9,104.0h0M659.0,105.1h0M788.3,93.5h0M798.8,109.1h0M768.6,111.8h0M748.4,100.6h0M760.5,98.1h0M664.3,94.0h0M689.9,110.1h0M669.8,122.4h0M628.7,112.1h0M658.3,112.6h0M767.2,116.5h0M624.3,101.1h0M730.6,125.4h0M620.2,113.4h0M749.0,119.9h0M679.7,119.7h0M703.4,123.4h0M614.1,124.0h0M693.6,106.4h0M629.4,101.1h0M757.3,115.4h0M641.9,104.4h0M639.8,99.5h0M655.5,103.9h0M805.2,125.9h0M768.7,108.8h0M710.5,118.7h0M791.8,117.8h0M738.0,99.6h0M735.8,120.9h0M767.8,96.0h0M754.1,104.5h0M644.1,124.9h0M745.2,117.6h0M638.7,120.3h0M797.6,122.9h0M759.5,120.5h0M770.8,112.5h0M698.2,120.2h0M767.3,121.7h0M671.2,124.7h0M717.3,124.2h0M634.9,125.0h0M767.9,101.3h0M778.0,100.7h0M651.2,108.1h0M658.9,109.3h0M791.8,115.6h0M752.7,105.9h0M767.2,119.2h0M747.2,124.1h0M775.5,106.4h0M629.2,114.5h0M777.6,104.2h0M729.8,120.6h0M769.0,93.1h0M708.8,93.5h0M633.9,119.8h0M694.9,113.0h0M702.6,104.1h0M622.0,110.3h0M619.8,118.4h0M638.7,111.8h0M632.7,120.0h0M630.9,114.8h0M621.3,108.4h0M617.2,119.7h0M640.6,109.7h0M631.4,111.4h0M634.4,110.5h0M626.3,123.8h0M616.6,113.9h0M618.5,116.0h0M636.0,125.8h0M625.7,109.8h0M630.0,116.5h0M624.4,106.0h0M635.6,115.1h0M643.0,122.2h0M628.0,108.0h0M634.5,117.1h0M633.5,113.5h0M621.6,124.6h0M636.1,107.5h0M657.6,118.5h0M647.5,113.2h0M670.1,119.2h0M659.4,116.4h0M659.0,119.5h0M670.9,113.3h0M659.5,125.5h0M676.4,119.7h0M668.7,117.1h0M653.0,123.8h0M667.8,120.6h0M664.0,112.5h0M662.1,108.7h0M678.1,108.9h0M659.7,117.8h0M662.1,113.8h0M691.0,120.9h0M688.4,121.2h0M687.6,111.8h0M685.0,125.6h0M690.0,119.0h0M695.6,113.6h0M682.1,125.3h0M689.3,111.5h0M681.6,109.2h0M680.3,121.9h0M686.0,112.9h0M697.4,123.5h0M698.5,109.2h0M691.7,112.2h0M687.7,107.1h0M690.0,125.3h0M698.6,125.2h0M694.3,124.9h0M720.6,109.9h0M711.8,108.2h0M721.8,111.2h0M709.6,125.3h0M719.3,111.3h0M719.4,115.0h0M729.7,122.7h0M707.1,112.3h0M705.8,109.0h0M715.4,117.2h0M707.1,119.4h0M715.1,113.3h0M709.4,124.3h0M709.3,118.6h0M713.9,111.2h0M715.3,122.5h0M742.0,117.3h0M733.9,111.3h0M757.2,110.9h0M752.0,121.1h0M747.8,119.6h0M733.2,108.2h0M750.6,112.1h0M732.8,118.7h0M729.5,119.8h0M745.1,124.8h0M737.1,120.8h0M740.2,122.1h0M749.9,113.0h0M749.6,116.6h0M757.0,116.4h0M736.7,108.7h0M730.8,112.8h0M750.6,116.0h0M746.9,123.0h0M739.5,114.1h0M736.0,117.5h0M742.0,121.8h0M757.4,122.8h0M750.1,121.1h0M752.5,116.0h0M756.0,120.9h0M735.1,122.4h0M735.5,108.6h0M732.4,120.1h0M741.2,111.5h0M775.8,107.3h0M774.6,111.5h0M777.1,110.3h0M785.5,119.5h0M788.1,125.5h0M787.1,120.0h0M778.7,107.4h0M788.3,106.1h0M779.7,118.6h0M788.6,107.2h0M789.3,114.9h0M773.0,106.8h0M780.7,122.5h0M788.8,118.6h0M788.2,112.8h0M780.6,110.4h0M792.9,121.9h0M788.4,122.2h0M797.9,116.7h0M796.9,106.6h0M787.3,116.1h0M782.8,118.6h0M786.2,120.5h0M778.9,116.2h0M781.4,117.8h0M787.1,125.9h0M798.9,122.1h0M791.1,125.7h0M783.5,107.4h0M781.3,115.1h0" stroke="#08080c" stroke-width="6" stroke-linecap="round" fill="none"/><path d="M805.0,106.6h0M807.4,106.6h0M809.8,106.6h0M812.2,106.6h0M814.6,106.6h0M817.0,106.6h0M819.4,106.6h0M821.8,106.6h0M824.2,106.6h0M826.6,106.6h0M829.0,106.6h0M521.0,237.4h0M523.2,237.8h0M525.3,237.6h0M527.9,237.2h0M530.6,237.1h0M533.3,237.2h0M535.4,237.5h0M538.7,237.2h0M541.0,237.7h0M544.4,237.7h0M547.0,238.1h0M549.1,238.0h0M551.5,237.2h0M553.7,237.4h0M556.9,237.3h0M559.8,237.7h0M562.4,237.6h0M564.5,237.2h0M566.8,237.8h0M569.4,237.4h0M572.3,237.6h0M574.7,237.9h0M577.8,237.3h0M580.6,237.6h0M584.0,237.8h0M586.4,238.1h0M588.6,237.5h0M591.7,237.3h0M594.4,237.1h0M597.4,237.9h0M600.3,238.0h0M602.8,237.8h0M715.2,78.4h0M788.9,77.8h0M662.8,78.9h0M671.3,78.9h0M641.4,78.7h0M736.0,78.5h0M732.5,78.9h0M676.8,78.2h0M707.3,78.4h0M714.0,78.5h0M639.8,79.0h0M776.8,78.5h0M771.4,78.7h0M653.9,79.5h0M653.5,79.3h0M699.4,78.3h0M715.5,78.6h0M626.8,77.9h0M620.5,78.7h0M683.7,79.5h0M771.7,79.1h0M711.3,78.5h0M627.1,77.7h0M796.2,78.7h0M765.2,78.5h0M680.6,79.6h0M713.7,80.4h0M754.6,79.6h0M616.1,79.7h0M650.7,78.7h0M719.7,78.9h0M646.1,78.5h0M687.2,79.8h0M776.5,77.8h0M713.7,77.8h0M782.1,79.1h0M748.9,78.5h0M670.9,78.9h0M764.3,77.7h0M628.7,78.0h0M788.0,79.6h0M744.3,79.7h0M624.2,79.1h0M710.9,78.9h0M783.6,78.5h0M735.3,78.8h0M691.2,79.3h0M766.8,78.5h0M609.0,78.6h0M626.3,78.9h0M712.0,78.4h0M661.0,78.5h0M632.8,78.2h0M774.0,77.8h0M761.0,78.5h0M788.1,79.4h0M634.1,78.9h0M701.8,79.7h0M611.8,77.9h0M640.2,79.2h0M680.8,77.8h0M696.8,79.5h0M680.9,79.9h0M773.5,78.6h0M668.5,78.6h0M646.7,79.5h0M613.4,78.2h0M637.8,78.3h0M716.4,79.4h0M679.9,78.8h0M716.8,78.9h0M669.4,79.6h0M795.4,78.9h0M613.8,79.4h0M657.6,79.6h0M657.8,78.3h0M714.8,78.8h0M706.9,80.9h0M611.6,78.2h0M713.2,79.0h0M754.4,77.4h0M727.2,78.4h0M659.3,78.3h0M758.5,80.0h0M736.5,77.6h0M663.7,78.9h0M703.2,77.7h0M727.6,78.3h0M683.4,79.5h0M616.7,78.5h0M795.8,79.3h0M697.9,78.4h0M650.3,79.2h0M672.4,78.9h0M773.1,78.9h0M692.5,77.9h0M663.4,79.1h0M637.6,79.3h0M664.5,79.0h0M745.2,77.2h0M670.7,78.3h0M782.8,78.6h0M639.5,78.7h0M717.0,79.5h0M754.5,78.7h0M687.7,79.0h0M698.5,78.6h0M778.5,78.7h0M609.5,79.3h0M636.8,78.7h0M647.1,79.9h0M682.1,79.1h0M771.8,79.7h0M730.1,79.2h0M790.9,79.9h0M721.0,79.9h0M774.0,79.4h0M670.8,79.1h0M708.6,79.1h0M774.0,77.8h0M646.0,77.6h0M668.1,78.8h0M683.2,77.8h0M736.0,78.7h0M685.0,79.0h0M613.8,78.4h0M700.4,78.3h0M720.4,78.8h0M607.6,79.6h0M783.6,76.9h0M615.8,78.0h0M723.5,78.7h0M623.0,78.2h0M635.1,79.5h0M622.3,79.7h0M762.1,78.0h0M718.6,79.2h0M712.1,78.3h0M668.9,78.0h0M748.0,78.7h0M752.3,79.9h0M754.8,78.4h0M793.6,79.9h0M692.5,78.6h0M786.6,79.6h0M630.4,79.6h0M731.5,78.8h0M754.4,77.4h0M649.0,80.4h0M751.0,78.9h0M630.9,78.9h0M616.6,77.9h0M640.1,78.8h0M786.4,78.5h0M639.2,79.1h0M747.4,79.2h0M610.6,78.6h0M755.2,78.9h0M701.3,80.8h0M727.8,78.1h0M693.8,79.8h0M667.5,79.1h0M746.5,78.6h0M617.6,78.4h0M771.8,78.2h0M616.6,78.1h0M782.4,78.5h0M787.4,78.5h0M653.6,78.4h0M655.6,78.3h0M497.7,79.0h0M518.8,78.4h0M527.8,78.3h0M498.2,78.4h0M522.8,78.6h0M523.0,78.7h0M521.3,80.0h0M500.7,78.4h0M523.9,79.5h0M496.1,78.4h0M507.2,77.9h0M512.0,79.2h0M523.6,78.5h0M503.7,79.1h0M496.9,77.4h0M522.8,79.4h0M720.5,88.1h0M747.9,90.2h0M753.2,88.6h0M691.5,88.5h0M802.7,89.5h0M689.1,88.3h0M641.8,89.3h0M807.7,89.8h0M793.7,88.8h0M663.4,88.3h0M660.7,88.4h0M652.5,89.8h0M766.1,89.7h0M790.3,89.8h0M676.9,89.1h0M739.4,88.2h0M802.5,88.6h0M614.2,88.8h0M713.0,87.4h0M728.9,89.3h0M736.1,88.8h0M758.2,88.0h0M690.3,89.6h0M716.1,88.0h0M676.5,88.1h0M736.0,88.3h0M732.8,88.7h0M665.4,89.5h0M754.0,88.4h0M715.3,88.3h0M641.6,88.9h0M793.9,88.0h0M716.3,88.6h0M771.8,88.8h0M773.4,89.2h0M703.3,88.0h0M787.4,87.8h0M782.3,89.5h0M775.4,89.0h0M772.6,89.1h0M662.8,89.1h0M633.9,88.0h0M715.1,89.8h0M701.8,89.4h0M807.4,89.2h0M748.8,88.0h0M768.9,89.1h0M761.2,89.4h0M685.2,89.7h0M715.0,88.9h0M680.0,89.5h0M687.9,89.3h0M724.7,88.9h0M625.2,89.3h0M667.3,89.8h0M676.9,88.9h0M631.7,90.1h0M737.4,89.1h0M696.1,88.4h0M767.7,88.3h0M622.5,88.3h0M699.9,88.1h0M671.3,89.6h0M693.1,88.0h0M682.4,87.8h0M688.8,87.4h0M651.2,88.0h0M802.4,88.6h0M743.1,88.1h0M677.9,89.9h0M687.6,89.3h0M716.0,87.3h0M760.9,88.8h0M619.0,88.1h0M703.7,88.4h0" stroke="#08080c" stroke-width="4.9" stroke-linecap="round" fill="none"/></g>
<path d="M135.2,13.4v11.4M135.2,396.6v-11.4" stroke="#0a0a12" stroke-width="3.2" fill="none"/>
<path d="M151.4,13.4v11.4M151.4,396.6v-11.4" stroke="#0a0a12" stroke-width="3.2" fill="none"/>
<path d="M167.5,13.4v11.4M167.5,396.6v-11.4" stroke="#0a0a12" stroke-width="3.2" fill="none"/>
<path d="M183.7,13.4v11.4M183.7,396.6v-11.4" stroke="#0a0a12" stroke-width="3.2" fill="none"/>
<path d="M199.8,13.4v11.4M199.8,396.6v-11.4" stroke="#0a0a12" stroke-width="3.2" fill="none"/>
<path d="M215.9,13.4v11.4M215.9,396.6v-11.4" stroke="#0a0a12" stroke-width="3.2" fill="none"/>
<path d="M232.1,13.4v11.4M232.1,396.6v-11.4" stroke="#0a0a12" stroke-width="3.2" fill="none"/>
<path d="M248.2,13.4v11.4M248.2,396.6v-11.4" stroke="#0a0a12" stroke-width="3.2" fill="none"/>
<path d="M264.4,13.4v11.4M264.4,396.6v-11.4" stroke="#0a0a12" stroke-width="3.2" fill="none"/>
<path d="M280.5,396.6v-25.8" stroke="#0a0a12" stroke-width="2.9" fill="none"/>
<path d="M296.6,13.4v11.4M296.6,396.6v-11.4" stroke="#0a0a12" stroke-width="3.2" fill="none"/>
<path d="M312.8,13.4v11.4M312.8,396.6v-11.4" stroke="#0a0a12" stroke-width="3.2" fill="none"/>
<path d="M328.9,13.4v11.4M328.9,396.6v-11.4" stroke="#0a0a12" stroke-width="3.2" fill="none"/>
<path d="M345.1,13.4v11.4M345.1,396.6v-11.4" stroke="#0a0a12" stroke-width="3.2" fill="none"/>
<path d="M361.2,13.4v11.4M361.2,396.6v-11.4" stroke="#0a0a12" stroke-width="3.2" fill="none"/>
<path d="M377.3,13.4v11.4M377.3,396.6v-11.4" stroke="#0a0a12" stroke-width="3.2" fill="none"/>
<path d="M393.5,13.4v11.4M393.5,396.6v-11.4" stroke="#0a0a12" stroke-width="3.2" fill="none"/>
<path d="M409.6,13.4v11.4M409.6,396.6v-11.4" stroke="#0a0a12" stroke-width="3.2" fill="none"/>
<path d="M425.8,13.4v11.4M425.8,396.6v-11.4" stroke="#0a0a12" stroke-width="3.2" fill="none"/>
<path d="M441.9,396.6v-25.8" stroke="#0a0a12" stroke-width="2.9" fill="none"/>
<path d="M458.0,13.4v11.4M458.0,396.6v-11.4" stroke="#0a0a12" stroke-width="3.2" fill="none"/>
<path d="M474.2,13.4v11.4M474.2,396.6v-11.4" stroke="#0a0a12" stroke-width="3.2" fill="none"/>
<path d="M490.3,13.4v11.4M490.3,396.6v-11.4" stroke="#0a0a12" stroke-width="3.2" fill="none"/>
<path d="M506.5,13.4v11.4M506.5,396.6v-11.4" stroke="#0a0a12" stroke-width="3.2" fill="none"/>
<path d="M522.6,13.4v11.4M522.6,396.6v-11.4" stroke="#0a0a12" stroke-width="3.2" fill="none"/>
<path d="M538.7,13.4v11.4M538.7,396.6v-11.4" stroke="#0a0a12" stroke-width="3.2" fill="none"/>
<path d="M554.9,13.4v11.4M554.9,396.6v-11.4" stroke="#0a0a12" stroke-width="3.2" fill="none"/>
<path d="M571.0,13.4v11.4M571.0,396.6v-11.4" stroke="#0a0a12" stroke-width="3.2" fill="none"/>
<path d="M587.2,13.4v11.4M587.2,396.6v-11.4" stroke="#0a0a12" stroke-width="3.2" fill="none"/>
<path d="M603.3,396.6v-25.8" stroke="#0a0a12" stroke-width="2.9" fill="none"/>
<path d="M619.4,13.4v11.4M619.4,396.6v-11.4" stroke="#0a0a12" stroke-width="3.2" fill="none"/>
<path d="M635.6,13.4v11.4M635.6,396.6v-11.4" stroke="#0a0a12" stroke-width="3.2" fill="none"/>
<path d="M651.7,13.4v11.4M651.7,396.6v-11.4" stroke="#0a0a12" stroke-width="3.2" fill="none"/>
<path d="M667.9,13.4v11.4M667.9,396.6v-11.4" stroke="#0a0a12" stroke-width="3.2" fill="none"/>
<path d="M684.0,13.4v11.4M684.0,396.6v-11.4" stroke="#0a0a12" stroke-width="3.2" fill="none"/>
<path d="M700.1,13.4v11.4M700.1,396.6v-11.4" stroke="#0a0a12" stroke-width="3.2" fill="none"/>
<path d="M716.3,13.4v11.4M716.3,396.6v-11.4" stroke="#0a0a12" stroke-width="3.2" fill="none"/>
<path d="M732.4,13.4v11.4M732.4,396.6v-11.4" stroke="#0a0a12" stroke-width="3.2" fill="none"/>
<path d="M748.6,13.4v11.4M748.6,396.6v-11.4" stroke="#0a0a12" stroke-width="3.2" fill="none"/>
<path d="M764.7,396.6v-25.8" stroke="#0a0a12" stroke-width="2.9" fill="none"/>
<path d="M780.8,13.4v11.4M780.8,396.6v-11.4" stroke="#0a0a12" stroke-width="3.2" fill="none"/>
<path d="M797.0,13.4v11.4M797.0,396.6v-11.4" stroke="#0a0a12" stroke-width="3.2" fill="none"/>
<path d="M813.1,13.4v11.4M813.1,396.6v-11.4" stroke="#0a0a12" stroke-width="3.2" fill="none"/>
<path d="M829.3,13.4v11.4M829.3,396.6v-11.4" stroke="#0a0a12" stroke-width="3.2" fill="none"/>
<path d="M845.4,13.4v11.4M845.4,396.6v-11.4" stroke="#0a0a12" stroke-width="3.2" fill="none"/>
<path d="M861.5,13.4v11.4M861.5,396.6v-11.4" stroke="#0a0a12" stroke-width="3.2" fill="none"/>
<path d="M877.7,13.4v11.4M877.7,396.6v-11.4" stroke="#0a0a12" stroke-width="3.2" fill="none"/>
<path d="M893.8,13.4v11.4M893.8,396.6v-11.4" stroke="#0a0a12" stroke-width="3.2" fill="none"/>
<path d="M910.0,13.4v11.4M910.0,396.6v-11.4" stroke="#0a0a12" stroke-width="3.2" fill="none"/>
<path d="M926.1,396.6v-25.8" stroke="#0a0a12" stroke-width="2.9" fill="none"/>
<path d="M942.2,13.4v11.4M942.2,396.6v-11.4" stroke="#0a0a12" stroke-width="3.2" fill="none"/>
<path d="M958.4,13.4v11.4M958.4,396.6v-11.4" stroke="#0a0a12" stroke-width="3.2" fill="none"/>
<path d="M974.5,13.4v11.4M974.5,396.6v-11.4" stroke="#0a0a12" stroke-width="3.2" fill="none"/>
<path d="M990.7,13.4v11.4M990.7,396.6v-11.4" stroke="#0a0a12" stroke-width="3.2" fill="none"/>
<path d="M1006.8,13.4v11.4M1006.8,396.6v-11.4" stroke="#0a0a12" stroke-width="3.2" fill="none"/>
<path d="M1022.9,13.4v11.4M1022.9,396.6v-11.4" stroke="#0a0a12" stroke-width="3.2" fill="none"/>
<path d="M1039.1,13.4v11.4M1039.1,396.6v-11.4" stroke="#0a0a12" stroke-width="3.2" fill="none"/>
<path d="M1055.2,13.4v11.4M1055.2,396.6v-11.4" stroke="#0a0a12" stroke-width="3.2" fill="none"/>
<path d="M1071.4,13.4v11.4M1071.4,396.6v-11.4" stroke="#0a0a12" stroke-width="3.2" fill="none"/>
<path d="M1087.5,396.6v-25.8" stroke="#0a0a12" stroke-width="2.9" fill="none"/>
<path d="M1103.6,13.4v11.4M1103.6,396.6v-11.4" stroke="#0a0a12" stroke-width="3.2" fill="none"/>
<path d="M1119.8,13.4v11.4M1119.8,396.6v-11.4" stroke="#0a0a12" stroke-width="3.2" fill="none"/>
<path d="M1135.9,13.4v11.4M1135.9,396.6v-11.4" stroke="#0a0a12" stroke-width="3.2" fill="none"/>
<path d="M1152.1,13.4v11.4M1152.1,396.6v-11.4" stroke="#0a0a12" stroke-width="3.2" fill="none"/>
<path d="M1168.2,13.4v11.4M1168.2,396.6v-11.4" stroke="#0a0a12" stroke-width="3.2" fill="none"/>
<path d="M121.8,43.3h10.8M1182.6,43.3h-10.8" stroke="#14141c" stroke-width="3.2" fill="none" opacity="0.9"/>
<path d="M121.8,75.7h25.8M1182.6,75.7h-25.8" stroke="#14141c" stroke-width="3.2" fill="none" opacity="0.9"/>
<path d="M121.8,108.1h10.8M1182.6,108.1h-10.8" stroke="#14141c" stroke-width="3.2" fill="none" opacity="0.9"/>
<path d="M121.8,140.5h10.8M1182.6,140.5h-10.8" stroke="#14141c" stroke-width="3.2" fill="none" opacity="0.9"/>
<path d="M121.8,172.9h10.8M1182.6,172.9h-10.8" stroke="#14141c" stroke-width="3.2" fill="none" opacity="0.9"/>
<path d="M121.8,205.3h10.8M1182.6,205.3h-10.8" stroke="#14141c" stroke-width="3.2" fill="none" opacity="0.9"/>
<path d="M121.8,237.7h25.8M1182.6,237.7h-25.8" stroke="#14141c" stroke-width="3.2" fill="none" opacity="0.9"/>
<path d="M121.8,270.1h10.8M1182.6,270.1h-10.8" stroke="#14141c" stroke-width="3.2" fill="none" opacity="0.9"/>
<path d="M121.8,302.5h10.8M1182.6,302.5h-10.8" stroke="#14141c" stroke-width="3.2" fill="none" opacity="0.9"/>
<path d="M121.8,334.9h10.8M1182.6,334.9h-10.8" stroke="#14141c" stroke-width="3.2" fill="none" opacity="0.9"/>
<path d="M121.8,367.3h10.8M1182.6,367.3h-10.8" stroke="#14141c" stroke-width="3.2" fill="none" opacity="0.9"/>
<rect x="119.8" y="11.4" width="1064.8" height="387.20000000000005" fill="none" stroke="#000" stroke-width="5.9"/>
<clipPath id="cb"><rect x="119.8" y="538.9" width="1064.8" height="387.20000000000005"/></clipPath>
<g clip-path="url(#cb)">
<rect x="117.8" y="547.5" width="1068.8" height="75.4" fill="#ec1e26"/>
<rect x="117.8" y="622.3" width="1068.8" height="14.3" fill="#fbb81c"/>
<rect x="117.8" y="636.0" width="1068.8" height="12.6" fill="#f4ea3c"/>
<rect x="117.8" y="648.0" width="1068.8" height="19.6" fill="url(#gYG)"/>
<rect x="117.8" y="667.0" width="1068.8" height="37.6" fill="url(#gGr)"/>
<rect x="117.8" y="704.0" width="1068.8" height="6.6" fill="url(#gGP)"/>
<rect x="117.8" y="710.0" width="1068.8" height="22.1" fill="#c1dfb8"/>
<rect x="117.8" y="731.5" width="1068.8" height="50.7" fill="#bee4e0"/>
<rect x="117.8" y="781.6" width="1068.8" height="84.5" fill="#7ec4ee"/>
<rect x="117.8" y="865.5" width="1068.8" height="34.4" fill="#5879c2"/>
<rect x="117.8" y="899.3" width="1068.8" height="31.3" fill="#5b80cb"/>
<polygon points="114.8,533.9 116.0,587.5 124.1,586.4 141.4,583.8 157.1,582.5 172.9,581.7 188.6,580.1 204.3,577.8 220.0,575.4 235.7,572.3 251.4,569.6 267.1,566.8 279.7,564.9 290.7,562.4 306.4,558.1 319.0,555.5 330.0,554.9 345.7,555.0 353.6,555.8 369.3,558.9 385.0,562.4 400.7,564.9 416.4,565.9 440.0,567.3 455.7,570.7 463.6,572.6 479.3,573.4 502.8,574.1 518.6,575.4 534.3,577.6 550.0,579.0 557.9,578.6 565.7,574.6 581.4,566.8 592.4,561.8 603.4,559.7 628.6,558.5 660.0,558.1 691.4,558.1 722.8,558.9 754.2,559.7 770.0,560.8 793.6,561.8 817.1,565.2 840.7,568.7 864.3,572.3 887.9,577.0 911.4,581.7 935.0,586.4 958.6,591.1 974.3,593.5 990.0,595.1 1019.3,596.3 1042.8,597.4 1058.6,598.5 1090.0,599.0 1113.6,599.0 1121.4,597.4 1130.8,595.4 1152.8,595.1 1190.0,595.1 1189.6,533.9" fill="#fff"/>
<path d="M280.5,540.9v25.6" stroke="#0a0a12" stroke-width="2.9" fill="none"/>
<path d="M441.9,540.9v25.6" stroke="#0a0a12" stroke-width="2.9" fill="none"/>
<path d="M603.3,540.9v25.6" stroke="#0a0a12" stroke-width="2.9" fill="none"/>
<path d="M764.7,540.9v25.6" stroke="#0a0a12" stroke-width="2.9" fill="none"/>
<path d="M926.1,540.9v25.6" stroke="#0a0a12" stroke-width="2.9" fill="none"/>
<path d="M1087.5,540.9v25.6" stroke="#0a0a12" stroke-width="2.9" fill="none"/>
<polygon points="116.0,587.5 124.1,586.4 141.4,583.8 157.1,582.5 172.9,581.7 188.6,580.1 204.3,577.8 220.0,575.4 235.7,572.3 251.4,569.6 267.1,566.8 279.7,564.9 290.7,562.4 306.4,558.1 319.0,555.5 330.0,554.9 345.7,555.0 353.6,555.8 369.3,558.9 385.0,562.4 400.7,564.9 416.4,565.9 440.0,567.3 455.7,570.7 463.6,572.6 479.3,573.4 502.8,574.1 518.6,575.4 534.3,577.6 550.0,579.0 557.9,578.6 565.7,574.6 581.4,566.8 592.4,561.8 603.4,559.7 628.6,558.5 660.0,558.1 691.4,558.1 722.8,558.9 754.2,559.7 770.0,560.8 793.6,561.8 817.1,565.2 840.7,568.7 864.3,572.3 887.9,577.0 911.4,581.7 935.0,586.4 958.6,591.1 974.3,593.5 990.0,595.1 1019.3,596.3 1042.8,597.4 1058.6,598.5 1090.0,599.0 1113.6,599.0 1121.4,597.4 1130.8,595.4 1152.8,595.1 1190.0,595.1 1189.6,609.5 114.8,609.5" fill="#ec1e26"/>
<polyline points="116.0,587.5 124.1,586.4 141.4,583.8 157.1,582.5 172.9,581.7 188.6,580.1 204.3,577.8 220.0,575.4 235.7,572.3 251.4,569.6 267.1,566.8 279.7,564.9 290.7,562.4 306.4,558.1 319.0,555.5 330.0,554.9 345.7,555.0 353.6,555.8 369.3,558.9 385.0,562.4 400.7,564.9 416.4,565.9 440.0,567.3 455.7,570.7 463.6,572.6 479.3,573.4 502.8,574.1 518.6,575.4 534.3,577.6 550.0,579.0 557.9,578.6 565.7,574.6 581.4,566.8 592.4,561.8 603.4,559.7 628.6,558.5 660.0,558.1 691.4,558.1 722.8,558.9 754.2,559.7 770.0,560.8 793.6,561.8 817.1,565.2 840.7,568.7 864.3,572.3 887.9,577.0 911.4,581.7 935.0,586.4 958.6,591.1 974.3,593.5 990.0,595.1 1019.3,596.3 1042.8,597.4 1058.6,598.5 1090.0,599.0 1113.6,599.0 1121.4,597.4 1130.8,595.4 1152.8,595.1 1190.0,595.1" fill="none" stroke="#1e0c0c" stroke-width="2.4"/>
<line x1="132" y1="651.2" x2="1171" y2="651.2" stroke="#1a1a08" stroke-width="4.4"/>
<line x1="119.8" y1="699.7" x2="1184.6" y2="699.7" stroke="#0c1408" stroke-width="4.4"/>
<polyline points="132,832.2 1169,832.2 1176,829 1184.6,829" fill="none" stroke="#0e1018" stroke-width="4.2"/>
<line x1="132" y1="899.3" x2="1169" y2="899.3" stroke="#0e1018" stroke-width="4"/>
</g>
<g clip-path="url(#cb)"><path d="M347.4,607.1h0M365.3,610.3h0M369.4,607.9h0M402.0,604.3h0M455.8,607.4h0M466.4,607.9h0M488.4,607.9h0M470.1,622.0h0M344.2,627.4h0M366.2,635.1h0M440.3,635.1h0M469.2,636.4h0M293.6,652.7h0M318.9,649.4h0M333.6,646.5h0M341.7,654.3h0M337.6,658.4h0M339.5,656.0h0M345.8,663.3h0M353.1,653.5h0M376.3,652.7h0M411.0,662.5h0M393.9,668.2h0M399.6,672.2h0M391.4,685.3h0M388.2,691.8h0M375.1,689.8h0M324.6,704.5h0M367.0,701.6h0M382.5,702.9h0M401.2,701.6h0M468.5,699.6h0M398.7,713.8h0M403.6,711.4h0M417.5,712.2h0M405.3,724.1h0M393.9,731.7h0M398.7,732.5h0M459.9,734.2h0M408.2,742.0h0M389.8,749.7h0M396.3,748.0h0M398.7,753.7h0M333.2,756.1h0M402.6,757.5h0M407.0,758.5h0M486.4,765.9h0M370.7,773.5h0M377.4,772.6h0M390.8,776.0h0M397.5,774.3h0M394.2,781.9h0M371.5,784.7h0M299.4,797.0h0M376.0,796.5h0M402.0,793.6h0M374.0,806.5h0M390.0,805.9h0M397.5,804.5h0M298.5,811.6h0M366.5,816.8h0M389.1,813.7h0M404.2,815.4h0M294.3,822.1h0M306.6,822.1h0M342.1,827.2h0M385.8,823.0h0M394.2,824.6h0M412.3,824.6h0M384.1,831.4h0M380.7,839.7h0M387.4,843.9h0M397.5,839.7h0M366.5,849.8h0M362.3,855.7h0M374.9,860.7h0M389.1,858.2h0M389.1,864.9h0M396.7,867.4h0M426.0,864.6h0M361.4,875.8h0M360.6,882.5h0M369.0,875.0h0M374.0,880.9h0M383.3,888.7h0M373.2,896.0h0M369.8,905.2h0M393.3,911.1h0M364.0,920.3h0M493.4,710.8h0M507.5,716.6h0M538.1,712.6h0M536.6,706.4h0M547.6,707.9h0M558.6,714.2h0M564.9,709.5h0M571.1,718.9h0M577.4,707.9h0M582.1,718.9h0M590.0,711.1h0M596.3,707.9h0M599.4,718.9h0M615.1,706.4h0M626.1,707.1h0M621.4,701.6h0M615.9,721.3h0M641.9,719.7h0M542.9,726.0h0M549.1,731.5h0M557.0,729.9h0M559.4,737.0h0M569.6,726.8h0M574.3,731.5h0M580.6,733.1h0M586.9,729.9h0M593.1,726.8h0M602.6,727.6h0M614.4,730.2h0M676.4,731.2h0M696.8,732.3h0M692.1,737.8h0M527.1,729.6h0M524.0,733.9h0M513.0,739.4h0M638.7,742.2h0M652.1,739.4h0M650.5,746.4h0M571.1,742.5h0M568.0,748.8h0M574.3,748.8h0M580.6,752.7h0M596.3,745.6h0M601.0,749.6h0M539.7,747.2h0M535.0,755.1h0M551.5,748.0h0M553.9,757.4h0M678.0,749.6h0M698.4,755.1h0M510.6,757.4h0M602.6,757.4h0M487.1,765.8h0M509.1,765.8h0M574.3,759.8h0M568.0,761.3h0M613.6,765.3h0M621.4,765.3h0M640.3,765.3h0M635.6,773.1h0M638.0,769.0h0M525.6,770.8h0M545.2,773.9h0M563.3,769.2h0M608.1,777.9h0M691.3,778.6h0M513.8,784.9h0M549.1,785.7h0M555.4,782.6h0M561.7,781.8h0M575.1,778.6h0M577.4,784.9h0M571.1,790.4h0M574.0,787.5h0M648.9,788.1h0M656.0,786.5h0M527.9,798.3h0M543.6,803.0h0M579.0,803.8h0M590.0,799.1h0M594.7,797.5h0M607.0,798.3h0M652.9,801.4h0M568.0,812.4h0M575.1,814.8h0M590.0,813.2h0M660.7,813.2h0M544.4,804.1h0M588.4,803.3h0M568.0,812.7h0M575.1,816.3h0M588.4,814.8h0M593.1,813.5h0M598.2,820.1h0M661.0,813.2h0M659.9,822.9h0M550.4,820.1h0M531.5,825.3h0M631.6,822.1h0M503.3,830.0h0M547.6,833.1h0M568.8,831.6h0M626.9,837.9h0M637.6,843.7h0M519.0,847.3h0M535.3,848.9h0M595.5,844.1h0M561.7,846.5h0M568.0,844.1h0M565.6,852.8h0M570.4,848.9h0M552.3,850.4h0M553.9,857.5h0M550.7,863.0h0M583.7,849.3h0M593.1,855.9h0M522.4,861.4h0M528.7,866.9h0M542.1,861.9h0M574.3,861.4h0M580.6,861.9h0M585.3,860.6h0M518.5,870.9h0M542.1,874.5h0M560.9,871.6h0M564.9,876.4h0M582.9,869.8h0M593.1,875.6h0M590.5,877.5h0M609.6,869.3h0M621.9,870.4h0M633.7,885.5h0M540.5,888.1h0M570.4,886.6h0M558.6,892.9h0M557.8,896.0h0M558.6,907.8h0M553.1,911.7h0M566.4,911.7h0M570.4,915.6h0M547.6,918.5h0M504.8,910.9h0M671.7,913.3h0M667.8,919.6h0M704.3,711.7h0M714.2,723.2h0M721.1,728.9h0M726.8,719.2h0M739.5,717.4h0M745.2,715.1h0M748.7,708.2h0M748.7,703.6h0M765.5,715.6h0M787.8,708.7h0M752.1,726.6h0M757.2,732.4h0M788.9,728.9h0M778.1,735.8h0M787.8,742.7h0M788.6,741.9h0M813.1,732.4h0M825.7,745.7h0M696.9,732.4h0M692.3,737.6h0M731.4,738.6h0M731.4,743.9h0M745.9,747.8h0M755.6,751.5h0M699.2,754.9h0M710.2,766.2h0M731.4,763.4h0M772.1,766.9h0M791.2,763.9h0M692.3,779.5h0M757.9,779.1h0M782.0,804.8h0M732.6,845.8h0M744.1,845.8h0M802.7,863.9h0M711.4,873.8h0M760.9,876.6h0M805.0,889.5h0M862.5,703.6h0M859.1,699.0h0M940.7,707.1h0M943.0,704.8h0M993.7,766.2h0M730.3,699.5h0M786.6,699.5h0M798.1,699.5h0M807.3,701.0h0M817.7,699.0h0M828.0,698.5h0M736.0,923.3h0M831.5,607.4h0M860.0,703.5h0M524.0,765.7h0M545.0,764.9h0M561.0,765.5h0M577.0,764.7h0M592.0,765.5h0M843.6,648.5h0M812.0,652.5h0M777.2,668.0h0M763.0,662.0h0M528.2,603.4h0M531.7,604.4h0M533.9,603.8h0M536.1,603.9h0M540.3,604.5h0M543.6,603.1h0M545.8,603.8h0M548.0,603.4h0M551.3,602.7h0M554.1,604.0h0M557.3,603.0h0M560.8,604.2h0M563.2,603.4h0M567.1,604.3h0M570.6,604.2h0M572.6,603.3h0M575.7,604.3h0M579.9,602.8h0M581.4,603.0h0M584.5,603.5h0M588.2,603.0h0M590.0,603.3h0M593.7,603.6h0M597.9,603.9h0M600.0,603.7h0M603.4,602.6h0M606.8,604.1h0M609.7,604.1h0M527.8,606.3h0M530.2,606.8h0M533.1,605.6h0M536.4,605.8h0M539.7,605.6h0M542.0,605.8h0M545.2,606.2h0M548.1,607.2h0M552.2,605.8h0M554.5,606.2h0M557.7,605.7h0M561.7,607.5h0M563.9,606.5h0M566.2,605.7h0M569.7,606.0h0M573.7,605.8h0M575.0,607.4h0M579.1,605.8h0M582.1,605.6h0M585.1,607.5h0M588.7,606.9h0M590.5,606.2h0M593.3,607.0h0M597.1,607.1h0M599.7,605.9h0M603.6,607.5h0M606.7,607.1h0M609.6,607.0h0M527.5,609.5h0M530.7,608.6h0M533.1,609.1h0M536.5,609.9h0M540.9,609.4h0M543.9,610.5h0M546.9,609.2h0M548.4,609.0h0M551.4,608.9h0M555.2,610.3h0M558.7,609.5h0M561.3,610.1h0M563.2,609.8h0M567.8,610.1h0M570.5,609.5h0M572.4,610.1h0M575.7,610.1h0M579.9,609.3h0M581.8,610.4h0M585.4,608.8h0M587.3,608.8h0M591.8,610.1h0M593.3,610.2h0M598.0,609.8h0M599.7,609.6h0M602.3,608.5h0M606.9,609.8h0M609.1,610.4h0M527.9,613.2h0M531.7,611.9h0M533.5,612.1h0M536.5,612.7h0M539.5,612.3h0M542.3,613.3h0M545.7,612.4h0M549.2,613.3h0M551.8,613.3h0M555.0,612.6h0M558.0,611.5h0M560.9,611.9h0M563.0,613.1h0M566.3,612.4h0M570.5,612.6h0M572.7,612.5h0M576.1,613.1h0M578.2,612.6h0M581.5,612.1h0M585.5,612.5h0M588.1,613.0h0M591.8,612.4h0M594.2,612.5h0M597.0,612.9h0M599.9,612.6h0M603.0,613.4h0M606.4,613.3h0M609.9,612.0h0M528.1,616.4h0M531.7,614.8h0M533.2,615.4h0M536.1,615.0h0M539.1,615.8h0M543.6,616.3h0M545.3,615.9h0M549.3,614.8h0M552.8,616.4h0M554.4,616.4h0M557.8,615.5h0M562.0,616.2h0M563.3,615.4h0M567.0,615.2h0M569.4,615.1h0M573.4,614.5h0M576.1,615.4h0M578.0,615.2h0M582.2,615.5h0M584.1,616.5h0M588.6,616.4h0M590.2,615.0h0M593.1,616.1h0M596.5,614.8h0M599.8,616.3h0M603.6,615.0h0M605.3,616.3h0M609.1,615.9h0M527.2,617.6h0M531.4,618.4h0M533.1,619.4h0M537.3,619.1h0M539.2,619.2h0M542.1,619.2h0M545.9,618.2h0M549.1,619.4h0M551.5,617.8h0M555.1,618.0h0M557.2,617.8h0M560.1,617.9h0M563.6,618.1h0M567.5,618.1h0M570.0,617.9h0M572.7,617.5h0M575.5,617.5h0M579.5,618.6h0M581.4,618.4h0M585.9,617.7h0M588.6,618.4h0M591.0,619.2h0M593.8,618.5h0M597.4,619.5h0M599.7,619.2h0M603.4,618.8h0M605.8,618.2h0M608.1,617.8h0M527.1,622.0h0M530.5,620.8h0M533.2,622.2h0M537.7,621.8h0M539.6,621.0h0M542.6,621.4h0M545.3,621.4h0M548.5,622.4h0M552.9,621.6h0M554.5,622.4h0M557.6,621.2h0M560.0,621.3h0M563.9,621.5h0M566.4,621.5h0M569.0,621.0h0M572.2,621.3h0M575.1,620.5h0M578.6,621.0h0M582.2,621.6h0M585.5,621.8h0M588.4,622.3h0M590.8,621.2h0M595.0,620.8h0M597.4,621.8h0M599.1,622.2h0M603.8,621.8h0M606.5,622.1h0M608.3,621.5h0M528.0,625.2h0M531.6,625.2h0M534.2,625.3h0M537.4,624.9h0M539.5,623.6h0M542.3,624.2h0M545.2,625.2h0M549.1,624.8h0M552.3,624.9h0M555.0,623.5h0M558.6,625.0h0M561.0,624.6h0M564.3,623.6h0M567.5,624.0h0M569.1,624.0h0M573.5,623.9h0M576.5,625.5h0M579.0,624.3h0M582.0,624.9h0M585.5,624.7h0M588.3,623.7h0M590.3,624.0h0M594.5,624.1h0M597.1,623.5h0M599.1,624.0h0M603.3,624.9h0M606.4,624.1h0M609.0,624.4h0M527.9,626.7h0M531.8,626.9h0M535.0,628.4h0M536.0,627.4h0M540.6,628.4h0M542.9,627.0h0M545.4,628.4h0M548.4,627.7h0M551.3,627.5h0M555.9,626.8h0M558.6,627.5h0M561.8,627.9h0M563.5,628.3h0M567.0,626.5h0M569.0,627.5h0M572.9,627.1h0M575.3,627.2h0M578.6,628.2h0M581.0,628.0h0M585.7,626.7h0M588.9,627.9h0M591.8,627.1h0M593.7,627.3h0M598.0,627.7h0M599.7,627.4h0M602.6,626.6h0M605.2,628.2h0M608.6,628.4h0M527.5,630.0h0M531.0,629.9h0M533.7,631.4h0M537.8,631.1h0M540.3,631.3h0M543.9,630.6h0M546.4,629.6h0M549.5,630.4h0M552.5,630.8h0M554.6,629.6h0M558.9,629.8h0M560.9,630.2h0M563.6,631.0h0M568.0,630.0h0M570.3,630.1h0M573.1,630.3h0M575.3,629.8h0M578.4,631.3h0M582.0,629.9h0M585.8,631.5h0M587.9,629.8h0M590.4,629.7h0M593.7,629.7h0M596.5,630.0h0M600.1,631.3h0M603.5,630.3h0M605.8,630.5h0M608.8,630.2h0M527.1,633.1h0M531.9,632.8h0M534.0,633.8h0M537.7,632.9h0M539.5,633.0h0M542.8,633.4h0M546.9,634.2h0M549.7,632.5h0M551.1,633.9h0M555.8,633.4h0M558.2,632.5h0M560.8,634.4h0M564.7,634.2h0M567.9,633.0h0M569.2,632.8h0M573.0,633.9h0M576.9,633.9h0M579.3,634.0h0M581.9,633.6h0M584.1,634.1h0M587.5,634.3h0M591.3,633.1h0M593.3,633.0h0M597.3,633.9h0M599.2,632.6h0M603.0,633.7h0M605.8,632.9h0M609.2,632.5h0M527.6,636.4h0M531.9,636.8h0M534.8,636.5h0M536.5,636.0h0M540.9,636.9h0M542.6,635.5h0M546.0,636.8h0M548.8,636.0h0M552.3,637.4h0M554.5,635.6h0M557.7,636.3h0M561.4,635.9h0M564.6,637.0h0M567.0,635.9h0M570.9,636.1h0M573.6,636.0h0M575.4,637.0h0M578.6,637.4h0M582.0,635.9h0M584.4,636.3h0M588.3,637.4h0M590.3,636.3h0M593.4,637.4h0M596.3,635.6h0M599.1,636.3h0M603.8,637.3h0M606.5,637.5h0M609.9,636.2h0M527.4,640.4h0M531.5,638.6h0M534.3,639.3h0M536.7,639.2h0M539.3,638.5h0M542.6,639.2h0M546.9,638.7h0M549.9,638.9h0M551.7,640.1h0M555.6,639.4h0M557.1,639.4h0M560.7,640.3h0M563.4,639.2h0M567.8,638.6h0M569.8,640.1h0M573.5,638.6h0M575.1,638.6h0M579.8,639.0h0M582.5,640.3h0M584.7,639.0h0M588.9,639.7h0M590.5,639.9h0M593.6,639.1h0M596.0,640.0h0M600.8,639.8h0M603.9,638.5h0M605.5,639.5h0M609.9,640.4h0M527.8,642.0h0M530.9,642.5h0M534.9,641.9h0M537.6,643.0h0M540.6,643.0h0M543.2,642.2h0M545.6,642.2h0M549.6,641.7h0M551.4,643.0h0M554.5,641.6h0M557.1,642.6h0M560.7,643.5h0M564.8,643.5h0M566.5,641.7h0M569.2,642.5h0M573.4,642.4h0M575.5,642.3h0M579.2,642.8h0M582.5,643.2h0M585.3,641.7h0M588.7,642.1h0M591.1,642.2h0M594.5,641.9h0M596.5,642.0h0M599.3,643.3h0M603.2,642.2h0M605.8,643.5h0M609.0,642.0h0M528.6,645.8h0M532.0,644.7h0M533.9,646.1h0M537.7,646.3h0M539.1,645.1h0M542.2,644.9h0M546.9,645.7h0M549.9,645.2h0M552.7,645.4h0M554.5,646.1h0M558.9,644.7h0M561.2,645.7h0M563.4,645.2h0M566.3,644.9h0M569.5,645.7h0M573.3,644.9h0M575.0,645.2h0M579.4,644.9h0M581.6,644.9h0M585.6,645.6h0M587.1,644.7h0M590.8,645.6h0M594.3,644.7h0M596.3,645.9h0M599.8,645.1h0M602.6,646.4h0M605.6,645.6h0M608.7,645.3h0M528.7,649.5h0M530.7,647.9h0M534.5,647.9h0M536.0,649.3h0M539.8,649.1h0M542.8,649.3h0M545.9,647.8h0M548.0,648.6h0M552.3,649.3h0M554.2,648.7h0M557.7,648.5h0M560.3,648.1h0M564.0,649.4h0M566.2,648.5h0M570.6,649.4h0M572.4,647.8h0M576.9,649.5h0M579.0,647.6h0M582.9,648.3h0M585.8,648.7h0M588.6,647.8h0M591.6,647.9h0M593.8,649.2h0M597.7,647.9h0M599.4,648.3h0M603.0,648.3h0M605.2,648.0h0M609.4,649.3h0M527.1,651.6h0M531.5,650.6h0M534.7,650.7h0M537.2,651.6h0M540.3,651.1h0M542.8,651.7h0M545.9,651.8h0M548.9,651.4h0M551.0,651.7h0M555.0,651.0h0M558.5,652.1h0M560.9,650.9h0M563.9,650.7h0M566.3,651.4h0M569.2,651.4h0M573.0,650.6h0M576.3,650.7h0M579.5,652.1h0M582.0,650.6h0M585.0,651.3h0M588.9,650.8h0M591.7,652.5h0M594.5,652.1h0M596.4,652.5h0M600.0,652.4h0M603.8,650.8h0M606.6,652.4h0M608.1,651.2h0M528.5,653.8h0M531.8,654.0h0M534.6,653.8h0M537.0,655.3h0M539.4,654.0h0M543.0,654.1h0M545.1,653.9h0M548.3,655.4h0M552.4,655.3h0M554.3,655.1h0M557.2,654.6h0M561.3,654.2h0M564.7,654.6h0M567.2,655.3h0M569.2,655.5h0M573.3,654.3h0M576.6,654.0h0M580.0,654.7h0M581.7,655.0h0M584.9,653.9h0M588.5,653.6h0M591.6,654.0h0M594.3,655.5h0M597.2,654.8h0M599.6,653.5h0M602.1,653.8h0M606.2,654.4h0M609.0,655.3h0M527.3,657.0h0M531.3,656.5h0M533.0,657.2h0M536.2,657.2h0M539.4,657.7h0M543.2,656.9h0M546.2,657.4h0M548.3,658.4h0M551.5,656.8h0M554.2,657.8h0M558.7,658.1h0M560.8,657.0h0M563.0,657.8h0M567.1,657.2h0M570.3,657.4h0M573.9,658.0h0M575.5,658.3h0M578.1,657.6h0M581.8,657.0h0M584.1,658.1h0M587.0,657.6h0M591.9,656.8h0M593.4,657.7h0M597.0,657.8h0M600.6,656.8h0M602.6,657.1h0M605.1,658.3h0M609.6,657.9h0M527.0,661.2h0M531.5,660.4h0M534.5,660.4h0M536.5,659.7h0M539.5,659.6h0M542.7,661.0h0M546.4,661.2h0M549.4,660.0h0M552.1,660.4h0M555.6,660.5h0M557.5,660.8h0M561.9,659.9h0M564.8,659.5h0M566.5,660.0h0M570.5,661.4h0M573.5,660.2h0M576.8,660.2h0M578.5,661.3h0M582.3,660.9h0M585.3,661.5h0M587.9,661.2h0M591.4,661.2h0M593.9,660.9h0M597.1,660.1h0M599.4,660.7h0M602.2,661.3h0M605.3,659.6h0M608.2,661.4h0M527.7,662.8h0M530.1,662.6h0M534.4,663.8h0M537.4,664.0h0M539.1,663.7h0M542.7,664.1h0M546.6,664.3h0M548.1,664.2h0M552.8,664.4h0M554.2,662.9h0M557.2,662.6h0M561.7,664.1h0M564.3,664.2h0M567.3,663.1h0M569.2,662.7h0M573.5,662.9h0M575.6,663.3h0M578.0,663.0h0M581.6,663.9h0M584.7,663.1h0M588.9,663.5h0M591.7,663.7h0M593.1,663.3h0M596.9,664.0h0M599.7,663.9h0M603.1,662.9h0M606.7,662.7h0M609.6,662.8h0M527.0,665.9h0M531.5,667.5h0M533.0,666.5h0M537.0,667.1h0M539.4,666.5h0M542.7,667.2h0M545.5,667.4h0M548.6,665.9h0M552.4,666.5h0M554.2,666.8h0M557.2,667.1h0M561.4,667.1h0M564.3,666.2h0M566.8,666.3h0M570.8,665.7h0M573.8,665.6h0M575.4,666.0h0M579.8,666.5h0M581.8,667.3h0M584.5,666.4h0M588.1,667.0h0M591.5,666.8h0M593.7,666.2h0M596.3,667.2h0M600.3,667.0h0M602.3,666.4h0M606.5,666.7h0M608.3,666.4h0M528.8,669.0h0M530.4,669.1h0M534.4,670.2h0M536.3,668.8h0M539.5,669.2h0M543.0,668.8h0M545.7,668.9h0M550.0,670.0h0M551.2,670.4h0M554.2,669.3h0M559.0,670.1h0M561.5,669.4h0M563.4,669.8h0M566.2,668.9h0M569.8,668.6h0M572.8,670.1h0M576.4,669.5h0M579.3,669.4h0M581.3,669.7h0M584.8,670.0h0M588.8,669.4h0M591.1,670.0h0M593.8,669.0h0M597.4,670.3h0M600.5,669.9h0M603.7,669.9h0M606.3,669.4h0M608.6,669.8h0M541.9,673.3h0M545.5,671.8h0M548.0,672.9h0M551.7,673.8h0M554.6,673.3h0M557.1,673.9h0M560.3,671.5h0M564.5,672.6h0M566.4,672.6h0M569.2,672.9h0M574.9,673.8h0M578.7,672.2h0M580.0,674.0h0M582.8,671.8h0M585.7,672.3h0M590.7,672.1h0M592.3,673.2h0M598.3,673.4h0M601.3,671.4h0M606.1,672.9h0M545.5,674.7h0M551.7,676.5h0M556.7,675.6h0M561.3,675.1h0M566.0,674.8h0M568.4,674.0h0M571.7,674.7h0M575.3,675.3h0M578.8,675.1h0M588.3,676.7h0M594.3,675.9h0M594.9,676.9h0M598.6,674.3h0M601.5,676.3h0M604.3,676.7h0M552.7,678.8h0M558.7,679.4h0M564.1,678.6h0M570.7,678.7h0M571.7,677.4h0M574.2,678.4h0M578.5,678.5h0M582.6,677.0h0M587.7,679.0h0M593.3,679.9h0M596.9,678.9h0M599.9,679.0h0M553.2,681.5h0M555.9,680.1h0M560.2,682.6h0M563.7,681.6h0M569.5,681.3h0M573.7,680.9h0M578.7,680.8h0M583.2,682.0h0M587.2,680.9h0M591.1,682.4h0M594.4,682.7h0M595.4,680.9h0M598.8,682.8h0M603.2,682.4h0M558.3,684.9h0M564.5,683.6h0M566.8,685.3h0M569.0,683.1h0M578.5,685.5h0M584.2,683.9h0M587.4,684.3h0M592.2,683.2h0M592.6,683.4h0M601.2,684.3h0M557.8,687.8h0M566.9,686.3h0M569.3,686.5h0M571.6,688.1h0M577.5,686.3h0M580.7,688.2h0M585.8,686.6h0M589.0,688.1h0M597.5,688.1h0M601.4,686.8h0M565.9,691.0h0M572.8,691.2h0M577.4,690.5h0M578.9,690.7h0M582.9,689.4h0M588.8,690.9h0M591.0,691.4h0M563.9,692.2h0M576.9,694.9h0M582.0,693.3h0M589.1,693.8h0M566.2,695.8h0M571.0,697.4h0M577.7,697.4h0M582.1,697.6h0M593.5,696.7h0M574.7,700.8h0M577.3,700.0h0M579.1,698.8h0M587.7,700.4h0M609.2,672.3h0M562.9,692.1h0M576.4,685.2h0M572.0,677.6h0M592.3,673.4h0M559.0,674.2h0M571.9,682.6h0M577.8,677.8h0M573.1,682.8h0M553.3,674.9h0M590.4,687.4h0M567.8,685.1h0M583.5,683.5h0M626.6,670.9h0M549.1,672.1h0M576.1,671.9h0M552.3,693.0h0M582.3,684.6h0M587.7,694.4h0M593.9,672.8h0M583.0,672.6h0M605.0,675.4h0M595.2,675.7h0M617.6,681.0h0M602.8,679.8h0M570.7,677.4h0M595.4,674.4h0M549.2,673.0h0M608.0,677.8h0M560.8,675.7h0M606.1,679.3h0M585.6,699.0h0M596.7,671.0h0M549.6,672.9h0M598.4,693.0h0M607.2,684.5h0M571.6,677.2h0M583.9,688.7h0M603.5,670.9h0M600.1,687.7h0M570.8,677.8h0M579.4,687.1h0M571.8,676.6h0M594.8,679.5h0M585.7,681.0h0M597.4,678.9h0M604.5,685.8h0M581.1,672.1h0M593.1,673.8h0M619.3,674.5h0M586.8,681.0h0M569.8,675.1h0M618.9,672.4h0M565.0,681.3h0M560.4,680.8h0M560.3,690.9h0M589.0,673.1h0M609.1,677.7h0M568.3,677.7h0M591.3,672.9h0M569.0,677.9h0M573.4,674.5h0M575.5,695.2h0M561.1,677.3h0M588.6,671.1h0M586.5,674.2h0M606.8,671.1h0M583.9,682.3h0M576.1,684.9h0M626.5,676.3h0M609.9,699.4h0M635.9,697.3h0M626.1,696.5h0M624.9,672.2h0M621.3,698.9h0M617.1,671.0h0M623.9,674.6h0M616.9,670.6h0M625.6,675.9h0M615.6,683.1h0M625.6,687.1h0M619.8,674.5h0M626.4,691.1h0M631.3,676.2h0M624.3,688.1h0M623.2,684.9h0M621.4,688.3h0M626.0,691.0h0M625.0,676.4h0M549.4,703.9h0M567.2,727.5h0M552.7,703.5h0M574.4,731.8h0M555.6,732.6h0M566.2,734.3h0M569.1,718.7h0M577.7,708.2h0M559.9,731.4h0M562.6,714.9h0M576.1,722.9h0M588.4,717.5h0M569.6,720.1h0M587.4,730.9h0M586.4,732.7h0M558.1,715.2h0M591.8,728.5h0M599.1,735.8h0M581.2,719.3h0M549.4,720.8h0M567.4,702.2h0M580.1,708.1h0M566.7,705.2h0M568.9,702.6h0M598.5,705.0h0M565.7,702.1h0M559.0,723.1h0M551.7,726.8h0M560.0,705.2h0M586.4,703.1h0M550.4,705.9h0M550.2,711.6h0M569.8,705.9h0M561.8,722.8h0M573.9,732.5h0M581.6,728.4h0M585.7,707.4h0M586.3,715.5h0M535.5,716.6h0M579.4,715.7h0M552.5,735.4h0M571.4,710.2h0M554.7,713.6h0M527.5,730.5h0M586.8,734.4h0M581.3,703.4h0M540.5,720.1h0M605.0,710.5h0M559.2,716.7h0M558.8,720.6h0M557.7,704.0h0M551.7,702.2h0M576.7,706.5h0M596.2,735.2h0M563.8,724.3h0M581.1,733.3h0M538.0,702.7h0M561.1,725.9h0M559.2,711.3h0M533.9,723.9h0M571.6,727.5h0M567.5,738.7h0M575.8,728.1h0M572.6,725.4h0M589.2,733.0h0M587.4,727.8h0M574.1,731.0h0M572.0,725.5h0M575.9,725.6h0M574.5,728.1h0M585.9,727.4h0M586.6,736.9h0M582.9,733.3h0M565.2,726.7h0M522.9,653.2h0M519.9,646.4h0M524.5,636.3h0M524.6,619.0h0M522.5,639.4h0M521.1,604.3h0M521.6,628.2h0M523.6,642.5h0M523.2,637.9h0M522.8,624.2h0M511.5,657.5h0M525.0,664.5h0M524.4,634.3h0M521.4,634.3h0M524.1,655.0h0M523.2,670.7h0M515.1,630.0h0M501.5,638.3h0M513.0,649.4h0M518.9,658.0h0M507.6,654.5h0M515.3,655.4h0M506.2,656.5h0M514.1,661.9h0M494.3,660.1h0M490.1,655.7h0M509.9,644.4h0M522.7,647.5h0M504.2,656.4h0M519.7,649.0h0M502.9,642.5h0M505.6,653.9h0M500.0,639.9h0M508.9,639.6h0M500.9,656.6h0M518.9,644.5h0M513.3,673.0h0M509.1,671.8h0M517.3,684.9h0M502.6,695.1h0M509.7,692.8h0M525.1,696.3h0M506.1,680.3h0M527.3,667.8h0M471.2,649.9h0M482.4,657.7h0M489.3,649.3h0M495.0,648.9h0M482.9,652.6h0M479.7,645.4h0M484.9,645.2h0M493.7,652.4h0M483.1,639.7h0M479.4,646.3h0M618.0,645.0h0M633.2,674.9h0M623.2,639.5h0M627.3,677.2h0M618.7,628.9h0M632.9,616.1h0M616.8,627.0h0M633.4,641.4h0M615.8,611.7h0M626.3,664.2h0M623.4,676.8h0M621.8,615.1h0M620.4,625.0h0M626.0,617.4h0M614.0,617.0h0M623.2,629.6h0M623.9,677.0h0M615.1,633.9h0M615.4,661.8h0M618.9,603.8h0M628.8,626.0h0M621.0,652.9h0M625.2,618.1h0M627.0,623.2h0M613.2,651.4h0M649.9,646.0h0M620.4,633.9h0M617.6,659.7h0M617.4,611.4h0M618.4,642.2h0M617.0,664.4h0M628.1,608.1h0M626.0,604.4h0M614.3,656.4h0M622.6,629.7h0M617.2,610.9h0M620.6,670.4h0M621.9,636.8h0M618.0,632.0h0M634.8,646.6h0M620.8,674.5h0M627.2,622.0h0M618.7,606.8h0M632.6,626.8h0M622.1,670.0h0M616.8,648.1h0M621.6,674.5h0M639.9,621.5h0M613.8,632.3h0M614.5,626.4h0M644.4,689.6h0M640.7,683.6h0M612.8,686.5h0M613.4,701.8h0M618.1,691.5h0M610.2,690.8h0M622.4,687.6h0M607.9,680.6h0M642.2,686.3h0M616.0,682.3h0M617.8,683.4h0M606.6,694.1h0M620.4,681.4h0M636.8,679.8h0M617.1,698.4h0M610.8,688.6h0M642.6,697.6h0M612.2,686.3h0M637.5,686.9h0M648.1,682.7h0M647.8,690.1h0M615.2,688.8h0M610.9,695.2h0M616.7,700.0h0M631.4,686.7h0M739.9,665.2h0M740.6,710.3h0M741.0,656.3h0M737.4,667.0h0M742.5,703.1h0M738.1,688.4h0M747.4,669.9h0M741.5,660.2h0M744.2,708.8h0M740.1,655.3h0M749.0,688.0h0M739.6,668.9h0M747.1,652.2h0M741.8,656.6h0M746.0,699.1h0M742.1,712.9h0M747.5,703.3h0M749.6,657.0h0M737.0,667.4h0M749.7,695.3h0M744.3,672.8h0M737.4,697.8h0M746.4,665.4h0M745.4,692.8h0M739.6,660.6h0M750.4,700.4h0M749.6,698.8h0M744.2,659.2h0M743.3,661.8h0M741.6,650.3h0M747.2,669.9h0M741.2,707.9h0M740.8,688.6h0M742.3,678.8h0M739.6,696.8h0M742.9,707.6h0M743.2,703.4h0M742.7,709.0h0M744.3,691.2h0M746.2,655.5h0M721.9,671.2h0M723.2,670.0h0M729.6,650.1h0M719.6,669.9h0M717.2,672.4h0M720.7,675.9h0M722.7,660.2h0M726.6,669.7h0M718.4,672.4h0M718.0,649.1h0M717.8,668.4h0M716.7,675.3h0M723.1,651.3h0M721.1,668.6h0M719.8,671.7h0M720.6,676.6h0M726.0,666.6h0M718.1,649.3h0M768.8,668.6h0M766.6,666.5h0M772.1,658.6h0M767.6,663.2h0M761.4,663.4h0M763.5,694.6h0M769.4,668.3h0M766.2,658.9h0M781.9,677.8h0M764.5,677.2h0M779.5,686.7h0M774.3,679.4h0M777.8,673.3h0M771.1,657.7h0M758.7,665.5h0M767.4,655.2h0M684.9,662.6h0M752.3,674.1h0M658.1,668.4h0M715.0,670.2h0M666.9,656.8h0M641.7,699.1h0M760.1,657.4h0M754.7,698.6h0M730.2,658.5h0M718.2,673.5h0M670.4,678.5h0M641.3,695.8h0M743.1,682.4h0M789.6,683.5h0M680.2,664.8h0M662.2,654.8h0M763.9,692.1h0M687.4,662.0h0M742.1,692.4h0M788.3,661.2h0M765.5,691.7h0M758.8,668.5h0M669.5,691.5h0M691.2,670.5h0M728.2,670.5h0M773.0,664.5h0M646.6,679.6h0M740.5,691.2h0M752.9,695.1h0M791.2,676.2h0M719.9,660.7h0M687.9,680.2h0M652.8,685.1h0M666.2,673.9h0M795.2,657.6h0M646.4,673.7h0M670.5,686.8h0M640.4,692.2h0M776.9,689.7h0M708.1,666.5h0M749.2,700.5h0M727.2,699.2h0M715.8,700.4h0M749.9,701.0h0M674.7,698.1h0M694.4,698.8h0M702.2,700.5h0M679.3,700.8h0M719.1,700.5h0M795.7,701.7h0M796.2,698.9h0M794.3,698.7h0M659.0,698.8h0M751.5,699.4h0M689.5,607.4h0M737.6,606.7h0M750.4,605.3h0M653.0,607.5h0M738.4,607.8h0M645.4,607.3h0M729.2,611.1h0M719.1,606.4h0M739.1,605.9h0M663.7,608.0h0M607.8,607.7h0M674.8,607.9h0M700.3,608.0h0M792.1,607.1h0M765.9,613.3h0M632.0,614.5h0M693.8,618.4h0M701.0,618.8h0M631.0,620.8h0M680.5,619.8h0M618.1,619.8h0M657.3,620.1h0M772.6,618.2h0M667.5,611.6h0M650.0,620.5h0M643.6,618.1h0M729.4,618.1h0M648.1,612.9h0M631.4,621.3h0M688.6,618.0h0M725.9,613.7h0M625.0,611.6h0M780.8,625.8h0M637.8,631.8h0M755.1,627.7h0M639.4,629.1h0M684.5,625.8h0M715.6,630.6h0M769.6,630.3h0M668.5,624.0h0M656.3,632.7h0M650.4,629.2h0M684.3,632.0h0M739.0,621.3h0M622.0,629.8h0M743.4,629.9h0M617.8,626.2h0M698.8,631.5h0M752.9,631.2h0M630.6,631.5h0M646.4,631.3h0M657.7,626.8h0M625.4,629.2h0M683.5,620.2h0M721.8,630.1h0M626.2,629.5h0M723.4,634.4h0M784.3,635.4h0M633.8,626.8h0M798.9,625.9h0M645.8,628.1h0M783.2,628.9h0M664.5,630.0h0M795.0,622.8h0M626.7,629.9h0M701.7,627.5h0M743.3,630.7h0M683.5,636.1h0M707.4,635.6h0M647.6,633.7h0M713.9,628.9h0M616.8,622.7h0M718.4,629.6h0M658.3,623.6h0M740.9,628.5h0M640.7,631.4h0M758.6,620.3h0M781.7,623.3h0M648.0,634.2h0M656.9,622.2h0M628.2,624.0h0M655.0,632.3h0M639.8,629.4h0M649.9,628.5h0M798.0,623.7h0M691.6,628.3h0M799.8,628.0h0M658.2,624.2h0M799.8,629.1h0M709.4,633.5h0M654.8,628.2h0M777.1,632.7h0M702.4,642.1h0M656.8,631.6h0M692.6,627.7h0M679.9,628.1h0M686.0,627.8h0M644.1,628.5h0M732.3,628.4h0M663.1,624.1h0M752.9,629.8h0M639.3,628.6h0M802.1,630.3h0M641.5,631.4h0M727.1,631.8h0M787.5,631.0h0M645.2,629.4h0M727.9,625.0h0M787.9,629.6h0M743.0,634.3h0M665.2,621.6h0M798.5,627.5h0M793.1,629.1h0M632.6,631.5h0M669.2,628.8h0M803.4,631.1h0M716.8,625.8h0M780.1,630.3h0M713.5,623.6h0M635.1,628.7h0M728.1,633.8h0M770.6,635.9h0M650.2,623.0h0M627.1,632.2h0M647.9,625.7h0M749.0,628.4h0M684.5,631.1h0M715.7,627.9h0M758.8,627.2h0M735.6,623.2h0M770.3,629.5h0M613.9,623.1h0M752.4,629.3h0M740.2,632.4h0M767.6,636.7h0M658.1,620.3h0M653.0,632.3h0M693.0,636.0h0M658.0,626.7h0M757.6,625.1h0M763.8,632.6h0M637.3,628.9h0M664.7,631.0h0M619.1,630.9h0M695.3,631.3h0M627.4,621.0h0M726.2,624.2h0M682.4,627.4h0M646.7,624.8h0M707.4,633.9h0M643.9,629.1h0M685.2,634.5h0M777.4,627.1h0M739.1,624.8h0M803.3,624.3h0M650.9,628.8h0M662.6,625.5h0M792.0,628.8h0M798.0,630.0h0M765.9,633.7h0M759.9,634.0h0M781.3,633.3h0M700.5,634.6h0M719.4,633.4h0M725.8,633.2h0M729.7,631.4h0M702.2,624.9h0M712.8,640.8h0M716.6,630.3h0M737.6,630.9h0M746.7,633.1h0M753.6,633.4h0M709.4,634.5h0M718.2,637.0h0M778.0,635.8h0M729.5,634.8h0M738.3,628.8h0M755.1,636.1h0M762.8,639.9h0M705.7,636.1h0M743.1,637.3h0M780.3,634.2h0M789.8,638.8h0M710.6,631.8h0M779.3,632.5h0M790.0,634.1h0M710.5,631.4h0M774.3,632.0h0M721.6,632.8h0M765.2,636.8h0M727.0,636.2h0M729.0,630.2h0M781.1,635.2h0M703.5,633.2h0M732.6,631.4h0M771.7,632.0h0M801.0,629.6h0M722.9,631.8h0M729.2,637.6h0M717.6,634.3h0M792.6,638.6h0M780.2,638.7h0M734.7,632.1h0M735.3,633.3h0M768.2,632.5h0M710.0,636.9h0M716.9,634.6h0M804.3,635.9h0M722.1,631.2h0M713.4,629.9h0M740.6,633.3h0M780.2,628.4h0M711.9,632.6h0M707.8,630.9h0M728.3,635.7h0M774.9,634.0h0M753.4,636.1h0M753.0,644.6h0M685.6,634.9h0M795.7,649.5h0M734.5,624.6h0M702.2,640.6h0M667.2,622.6h0M806.3,648.8h0M637.5,635.5h0M734.6,630.5h0M625.6,644.0h0M764.6,634.6h0M629.0,633.3h0M630.6,650.4h0M622.1,630.1h0M764.0,625.6h0M633.1,623.6h0M644.5,637.5h0M777.0,626.6h0M646.4,644.4h0M696.3,631.6h0M636.4,628.8h0M804.4,625.0h0M663.4,643.7h0M788.6,648.6h0M705.6,650.2h0M731.6,630.2h0M704.1,643.0h0M757.3,625.4h0M650.3,650.2h0M633.2,645.9h0M679.1,628.9h0M662.5,635.6h0M808.1,626.0h0M781.2,631.1h0M646.2,643.8h0M679.6,627.1h0M694.8,646.2h0M782.9,638.7h0M614.1,644.4h0M732.1,648.5h0M800.5,631.3h0M780.0,646.1h0M664.7,632.5h0M686.2,632.1h0M686.9,624.8h0M657.0,648.8h0M693.3,640.6h0M787.7,644.2h0M660.4,649.1h0M771.2,651.2h0M756.2,644.1h0M773.0,629.1h0M741.9,632.9h0M778.3,625.5h0M718.7,631.6h0M774.5,631.9h0M779.1,646.9h0M786.0,625.7h0M797.8,643.8h0M746.0,641.1h0M641.5,644.5h0M632.2,642.6h0M621.5,649.1h0M638.4,650.9h0M629.4,638.5h0M634.2,635.5h0M627.3,649.4h0M629.4,638.0h0M630.4,648.3h0M629.1,637.5h0M621.1,649.5h0M629.7,652.6h0M624.4,651.4h0M637.2,642.9h0M637.2,639.7h0M621.3,651.0h0M625.0,645.2h0M626.5,650.1h0M620.0,641.8h0M627.1,651.1h0M625.6,640.7h0M623.9,640.8h0M638.4,636.0h0M625.2,651.8h0M673.1,642.1h0M666.0,647.8h0M661.2,644.0h0M665.3,649.9h0M665.6,637.9h0M657.6,648.4h0M665.6,651.2h0M659.3,653.3h0M657.7,647.7h0M666.8,652.1h0M665.8,640.1h0M669.7,648.1h0M667.4,643.5h0M672.1,646.9h0M674.9,653.5h0M677.7,644.7h0M693.2,651.7h0M687.7,644.5h0M692.8,640.7h0M677.9,652.0h0M692.4,643.5h0M693.5,651.5h0M706.1,643.7h0M681.8,652.2h0M688.4,646.1h0M690.6,649.6h0M683.6,638.7h0M696.4,639.0h0M684.6,642.9h0M696.0,635.3h0M698.4,647.8h0M692.2,648.5h0M692.4,643.8h0M697.4,637.0h0M702.9,637.5h0M705.9,645.2h0M712.9,647.7h0M703.6,647.7h0M713.1,652.0h0M728.2,634.6h0M722.1,635.2h0M712.4,634.9h0M718.1,636.3h0M704.9,642.7h0M699.3,640.2h0M696.4,648.8h0M715.1,636.7h0M719.7,641.7h0M710.6,636.7h0M711.0,637.9h0M747.9,639.8h0M746.3,643.6h0M747.2,642.3h0M751.3,653.0h0M727.2,642.9h0M745.5,637.5h0M740.7,636.9h0M741.9,635.0h0M738.5,641.6h0M726.6,640.6h0M738.2,647.3h0M747.0,641.3h0M752.1,645.0h0M755.4,633.6h0M750.6,640.6h0M734.8,646.1h0M750.2,642.2h0M740.6,639.5h0M734.3,648.2h0M740.6,652.5h0M748.1,650.5h0M749.3,649.3h0M735.1,640.3h0M738.4,652.4h0M737.2,637.1h0M741.8,635.8h0M754.1,634.0h0M736.5,640.0h0M735.9,640.8h0M745.0,651.4h0M779.9,652.1h0M792.0,646.3h0M778.8,641.2h0M785.9,645.7h0M786.2,640.9h0M779.7,641.3h0M774.9,644.3h0M796.7,639.0h0M778.6,636.7h0M796.3,647.3h0M789.5,634.7h0M785.6,649.6h0M788.0,634.7h0M789.0,638.8h0M783.8,651.7h0M773.9,652.4h0M770.0,635.3h0M780.0,652.0h0M780.8,648.5h0M786.8,650.7h0M782.7,651.0h0M787.0,648.6h0M769.3,634.3h0M774.0,634.6h0M786.0,647.7h0M786.0,646.1h0M788.2,637.1h0M787.7,645.7h0M776.3,640.7h0M768.7,653.1h0" stroke="#08080c" stroke-width="6" stroke-linecap="round" fill="none"/><path d="M805.0,634.1h0M807.4,634.1h0M809.8,634.1h0M812.2,634.1h0M814.6,634.1h0M817.0,634.1h0M819.4,634.1h0M821.8,634.1h0M824.2,634.1h0M826.6,634.1h0M829.0,634.1h0M521.0,764.9h0M523.2,765.3h0M525.3,765.1h0M527.9,764.7h0M530.6,764.6h0M533.3,764.7h0M535.4,765.0h0M538.7,764.7h0M541.0,765.2h0M544.4,765.2h0M547.0,765.6h0M549.1,765.5h0M551.5,764.7h0M553.7,764.9h0M556.9,764.8h0M559.8,765.2h0M562.4,765.1h0M564.5,764.7h0M566.8,765.3h0M569.4,764.9h0M572.3,765.1h0M574.7,765.4h0M577.8,764.8h0M580.6,765.1h0M584.0,765.3h0M586.4,765.6h0M588.6,765.0h0M591.7,764.8h0M594.4,764.6h0M597.4,765.4h0M600.3,765.5h0M602.8,765.3h0M736.8,606.7h0M741.7,606.2h0M641.7,606.9h0M682.8,606.6h0M747.0,607.1h0M704.6,606.3h0M740.8,606.8h0M643.0,606.6h0M740.3,607.5h0M792.8,606.7h0M782.5,605.2h0M744.4,606.7h0M644.7,606.5h0M607.5,607.3h0M726.6,606.0h0M655.9,606.5h0M727.0,607.0h0M796.4,606.6h0M638.8,606.9h0M673.6,607.6h0M692.8,606.1h0M624.7,607.0h0M755.1,606.9h0M696.0,608.0h0M758.4,606.6h0M696.9,606.8h0M626.0,606.4h0M713.7,606.3h0M653.6,606.7h0M609.1,607.5h0M787.4,606.2h0M794.2,605.8h0M679.1,607.1h0M761.7,606.9h0M607.5,606.4h0M646.3,606.2h0M606.8,606.4h0M765.3,606.9h0M613.3,606.0h0M776.6,606.5h0M667.4,606.7h0M725.5,607.2h0M728.4,606.2h0M644.7,606.8h0M678.8,608.0h0M625.1,606.4h0M643.6,606.5h0M693.1,606.0h0M741.4,606.3h0M689.8,607.6h0M615.4,607.1h0M695.8,606.0h0M742.8,607.2h0M651.3,606.2h0M696.0,606.0h0M632.4,607.4h0M617.1,606.3h0M651.0,607.1h0M680.7,606.7h0M757.1,607.1h0M748.1,605.9h0M612.4,608.1h0M759.9,607.6h0M612.3,607.1h0M784.6,606.8h0M647.4,606.0h0M728.3,605.5h0M782.4,606.7h0M608.5,607.0h0M751.1,608.0h0M742.0,607.7h0M641.1,606.8h0M703.8,606.4h0M625.4,607.0h0M781.9,605.5h0M605.4,607.2h0M763.5,606.1h0M702.0,606.1h0M759.3,606.1h0M620.0,607.4h0M661.2,607.0h0M681.6,607.7h0M609.6,606.7h0M765.1,607.0h0M628.6,606.1h0M730.5,606.9h0M626.3,607.3h0M793.5,606.2h0M623.1,606.5h0M745.9,607.4h0M624.6,605.8h0M675.9,606.4h0M633.5,607.7h0M722.0,607.7h0M606.3,606.6h0M619.5,607.4h0M720.6,607.3h0M705.4,606.1h0M722.9,606.9h0M730.2,607.5h0M758.7,606.2h0M781.2,607.2h0M610.9,605.9h0M736.4,607.1h0M774.5,606.2h0M639.7,607.3h0M741.4,606.5h0M653.8,606.5h0M667.6,607.2h0M623.3,605.1h0M731.2,607.3h0M784.9,606.8h0M796.9,605.6h0M750.3,606.6h0M684.6,607.1h0M609.0,606.9h0M782.7,607.9h0M668.4,606.8h0M776.7,605.7h0M758.4,606.4h0M521.4,606.6h0M501.9,606.3h0M510.4,606.3h0M526.7,607.1h0M514.7,607.3h0M510.5,607.3h0M524.7,606.5h0M516.2,607.0h0M498.1,606.6h0M500.9,606.8h0M499.9,606.6h0M517.2,607.1h0" stroke="#08080c" stroke-width="4.9" stroke-linecap="round" fill="none"/></g>
<path d="M135.2,540.9v11.4M135.2,924.1v-11.4" stroke="#0a0a12" stroke-width="3.2" fill="none"/>
<path d="M151.4,540.9v11.4M151.4,924.1v-11.4" stroke="#0a0a12" stroke-width="3.2" fill="none"/>
<path d="M167.5,540.9v11.4M167.5,924.1v-11.4" stroke="#0a0a12" stroke-width="3.2" fill="none"/>
<path d="M183.7,540.9v11.4M183.7,924.1v-11.4" stroke="#0a0a12" stroke-width="3.2" fill="none"/>
<path d="M199.8,540.9v11.4M199.8,924.1v-11.4" stroke="#0a0a12" stroke-width="3.2" fill="none"/>
<path d="M215.9,540.9v11.4M215.9,924.1v-11.4" stroke="#0a0a12" stroke-width="3.2" fill="none"/>
<path d="M232.1,540.9v11.4M232.1,924.1v-11.4" stroke="#0a0a12" stroke-width="3.2" fill="none"/>
<path d="M248.2,540.9v11.4M248.2,924.1v-11.4" stroke="#0a0a12" stroke-width="3.2" fill="none"/>
<path d="M264.4,540.9v11.4M264.4,924.1v-11.4" stroke="#0a0a12" stroke-width="3.2" fill="none"/>
<path d="M280.5,924.1v-25.8" stroke="#0a0a12" stroke-width="2.9" fill="none"/>
<path d="M296.6,540.9v11.4M296.6,924.1v-11.4" stroke="#0a0a12" stroke-width="3.2" fill="none"/>
<path d="M312.8,540.9v11.4M312.8,924.1v-11.4" stroke="#0a0a12" stroke-width="3.2" fill="none"/>
<path d="M328.9,540.9v11.4M328.9,924.1v-11.4" stroke="#0a0a12" stroke-width="3.2" fill="none"/>
<path d="M345.1,540.9v11.4M345.1,924.1v-11.4" stroke="#0a0a12" stroke-width="3.2" fill="none"/>
<path d="M361.2,540.9v11.4M361.2,924.1v-11.4" stroke="#0a0a12" stroke-width="3.2" fill="none"/>
<path d="M377.3,540.9v11.4M377.3,924.1v-11.4" stroke="#0a0a12" stroke-width="3.2" fill="none"/>
<path d="M393.5,540.9v11.4M393.5,924.1v-11.4" stroke="#0a0a12" stroke-width="3.2" fill="none"/>
<path d="M409.6,540.9v11.4M409.6,924.1v-11.4" stroke="#0a0a12" stroke-width="3.2" fill="none"/>
<path d="M425.8,540.9v11.4M425.8,924.1v-11.4" stroke="#0a0a12" stroke-width="3.2" fill="none"/>
<path d="M441.9,924.1v-25.8" stroke="#0a0a12" stroke-width="2.9" fill="none"/>
<path d="M458.0,540.9v11.4M458.0,924.1v-11.4" stroke="#0a0a12" stroke-width="3.2" fill="none"/>
<path d="M474.2,540.9v11.4M474.2,924.1v-11.4" stroke="#0a0a12" stroke-width="3.2" fill="none"/>
<path d="M490.3,540.9v11.4M490.3,924.1v-11.4" stroke="#0a0a12" stroke-width="3.2" fill="none"/>
<path d="M506.5,540.9v11.4M506.5,924.1v-11.4" stroke="#0a0a12" stroke-width="3.2" fill="none"/>
<path d="M522.6,540.9v11.4M522.6,924.1v-11.4" stroke="#0a0a12" stroke-width="3.2" fill="none"/>
<path d="M538.7,540.9v11.4M538.7,924.1v-11.4" stroke="#0a0a12" stroke-width="3.2" fill="none"/>
<path d="M554.9,540.9v11.4M554.9,924.1v-11.4" stroke="#0a0a12" stroke-width="3.2" fill="none"/>
<path d="M571.0,540.9v11.4M571.0,924.1v-11.4" stroke="#0a0a12" stroke-width="3.2" fill="none"/>
<path d="M587.2,540.9v11.4M587.2,924.1v-11.4" stroke="#0a0a12" stroke-width="3.2" fill="none"/>
<path d="M603.3,924.1v-25.8" stroke="#0a0a12" stroke-width="2.9" fill="none"/>
<path d="M619.4,540.9v11.4M619.4,924.1v-11.4" stroke="#0a0a12" stroke-width="3.2" fill="none"/>
<path d="M635.6,540.9v11.4M635.6,924.1v-11.4" stroke="#0a0a12" stroke-width="3.2" fill="none"/>
<path d="M651.7,540.9v11.4M651.7,924.1v-11.4" stroke="#0a0a12" stroke-width="3.2" fill="none"/>
<path d="M667.9,540.9v11.4M667.9,924.1v-11.4" stroke="#0a0a12" stroke-width="3.2" fill="none"/>
<path d="M684.0,540.9v11.4M684.0,924.1v-11.4" stroke="#0a0a12" stroke-width="3.2" fill="none"/>
<path d="M700.1,540.9v11.4M700.1,924.1v-11.4" stroke="#0a0a12" stroke-width="3.2" fill="none"/>
<path d="M716.3,540.9v11.4M716.3,924.1v-11.4" stroke="#0a0a12" stroke-width="3.2" fill="none"/>
<path d="M732.4,540.9v11.4M732.4,924.1v-11.4" stroke="#0a0a12" stroke-width="3.2" fill="none"/>
<path d="M748.6,540.9v11.4M748.6,924.1v-11.4" stroke="#0a0a12" stroke-width="3.2" fill="none"/>
<path d="M764.7,924.1v-25.8" stroke="#0a0a12" stroke-width="2.9" fill="none"/>
<path d="M780.8,540.9v11.4M780.8,924.1v-11.4" stroke="#0a0a12" stroke-width="3.2" fill="none"/>
<path d="M797.0,540.9v11.4M797.0,924.1v-11.4" stroke="#0a0a12" stroke-width="3.2" fill="none"/>
<path d="M813.1,540.9v11.4M813.1,924.1v-11.4" stroke="#0a0a12" stroke-width="3.2" fill="none"/>
<path d="M829.3,540.9v11.4M829.3,924.1v-11.4" stroke="#0a0a12" stroke-width="3.2" fill="none"/>
<path d="M845.4,540.9v11.4M845.4,924.1v-11.4" stroke="#0a0a12" stroke-width="3.2" fill="none"/>
<path d="M861.5,540.9v11.4M861.5,924.1v-11.4" stroke="#0a0a12" stroke-width="3.2" fill="none"/>
<path d="M877.7,540.9v11.4M877.7,924.1v-11.4" stroke="#0a0a12" stroke-width="3.2" fill="none"/>
<path d="M893.8,540.9v11.4M893.8,924.1v-11.4" stroke="#0a0a12" stroke-width="3.2" fill="none"/>
<path d="M910.0,540.9v11.4M910.0,924.1v-11.4" stroke="#0a0a12" stroke-width="3.2" fill="none"/>
<path d="M926.1,924.1v-25.8" stroke="#0a0a12" stroke-width="2.9" fill="none"/>
<path d="M942.2,540.9v11.4M942.2,924.1v-11.4" stroke="#0a0a12" stroke-width="3.2" fill="none"/>
<path d="M958.4,540.9v11.4M958.4,924.1v-11.4" stroke="#0a0a12" stroke-width="3.2" fill="none"/>
<path d="M974.5,540.9v11.4M974.5,924.1v-11.4" stroke="#0a0a12" stroke-width="3.2" fill="none"/>
<path d="M990.7,540.9v11.4M990.7,924.1v-11.4" stroke="#0a0a12" stroke-width="3.2" fill="none"/>
<path d="M1006.8,540.9v11.4M1006.8,924.1v-11.4" stroke="#0a0a12" stroke-width="3.2" fill="none"/>
<path d="M1022.9,540.9v11.4M1022.9,924.1v-11.4" stroke="#0a0a12" stroke-width="3.2" fill="none"/>
<path d="M1039.1,540.9v11.4M1039.1,924.1v-11.4" stroke="#0a0a12" stroke-width="3.2" fill="none"/>
<path d="M1055.2,540.9v11.4M1055.2,924.1v-11.4" stroke="#0a0a12" stroke-width="3.2" fill="none"/>
<path d="M1071.4,540.9v11.4M1071.4,924.1v-11.4" stroke="#0a0a12" stroke-width="3.2" fill="none"/>
<path d="M1087.5,924.1v-25.8" stroke="#0a0a12" stroke-width="2.9" fill="none"/>
<path d="M1103.6,540.9v11.4M1103.6,924.1v-11.4" stroke="#0a0a12" stroke-width="3.2" fill="none"/>
<path d="M1119.8,540.9v11.4M1119.8,924.1v-11.4" stroke="#0a0a12" stroke-width="3.2" fill="none"/>
<path d="M1135.9,540.9v11.4M1135.9,924.1v-11.4" stroke="#0a0a12" stroke-width="3.2" fill="none"/>
<path d="M1152.1,540.9v11.4M1152.1,924.1v-11.4" stroke="#0a0a12" stroke-width="3.2" fill="none"/>
<path d="M1168.2,540.9v11.4M1168.2,924.1v-11.4" stroke="#0a0a12" stroke-width="3.2" fill="none"/>
<path d="M121.8,570.8h10.8M1182.6,570.8h-10.8" stroke="#14141c" stroke-width="3.2" fill="none" opacity="0.9"/>
<path d="M121.8,603.2h25.8M1182.6,603.2h-25.8" stroke="#14141c" stroke-width="3.2" fill="none" opacity="0.9"/>
<path d="M121.8,635.6h10.8M1182.6,635.6h-10.8" stroke="#14141c" stroke-width="3.2" fill="none" opacity="0.9"/>
<path d="M121.8,668.0h10.8M1182.6,668.0h-10.8" stroke="#14141c" stroke-width="3.2" fill="none" opacity="0.9"/>
<path d="M121.8,700.4h10.8M1182.6,700.4h-10.8" stroke="#14141c" stroke-width="3.2" fill="none" opacity="0.9"/>
<path d="M121.8,732.8h10.8M1182.6,732.8h-10.8" stroke="#14141c" stroke-width="3.2" fill="none" opacity="0.9"/>
<path d="M121.8,765.2h25.8M1182.6,765.2h-25.8" stroke="#14141c" stroke-width="3.2" fill="none" opacity="0.9"/>
<path d="M121.8,797.6h10.8M1182.6,797.6h-10.8" stroke="#14141c" stroke-width="3.2" fill="none" opacity="0.9"/>
<path d="M121.8,830.0h10.8M1182.6,830.0h-10.8" stroke="#14141c" stroke-width="3.2" fill="none" opacity="0.9"/>
<path d="M121.8,862.4h10.8M1182.6,862.4h-10.8" stroke="#14141c" stroke-width="3.2" fill="none" opacity="0.9"/>
<path d="M121.8,894.8h10.8M1182.6,894.8h-10.8" stroke="#14141c" stroke-width="3.2" fill="none" opacity="0.9"/>
<rect x="119.8" y="538.9" width="1064.8" height="387.20000000000005" fill="none" stroke="#000" stroke-width="5.9"/>
<text transform="translate(121.6,453.4) scale(0.98,1)" font-size="47.5" text-anchor="middle" >0</text>
<text transform="translate(283.0,453.4) scale(0.98,1)" font-size="47.5" text-anchor="middle" >10</text>
<text transform="translate(444.4,453.4) scale(0.98,1)" font-size="47.5" text-anchor="middle" >20</text>
<text transform="translate(605.8,453.4) scale(0.98,1)" font-size="47.5" text-anchor="middle" >30</text>
<text transform="translate(767.2,453.4) scale(0.98,1)" font-size="47.5" text-anchor="middle" >40</text>
<text transform="translate(928.6,453.4) scale(0.98,1)" font-size="47.5" text-anchor="middle" >50</text>
<text transform="translate(1090.0,453.4) scale(0.98,1)" font-size="47.5" text-anchor="middle" >60</text>
<text transform="translate(102.6,92.3) scale(0.98,1)" font-size="47.5" text-anchor="end" >0</text>
<text transform="translate(102.6,254.3) scale(0.98,1)" font-size="47.5" text-anchor="end" >5</text>
<text transform="translate(102.6,415.6) scale(0.98,1)" font-size="47.5" text-anchor="end" >10</text>
<text transform="translate(42.3,225) rotate(-90) scale(0.97,1)" font-size="51" text-anchor="middle">Depth (km)</text>
<text transform="translate(121.6,980.9) scale(0.98,1)" font-size="47.5" text-anchor="middle" >0</text>
<text transform="translate(283.0,980.9) scale(0.98,1)" font-size="47.5" text-anchor="middle" >10</text>
<text transform="translate(444.4,980.9) scale(0.98,1)" font-size="47.5" text-anchor="middle" >20</text>
<text transform="translate(605.8,980.9) scale(0.98,1)" font-size="47.5" text-anchor="middle" >30</text>
<text transform="translate(767.2,980.9) scale(0.98,1)" font-size="47.5" text-anchor="middle" >40</text>
<text transform="translate(928.6,980.9) scale(0.98,1)" font-size="47.5" text-anchor="middle" >50</text>
<text transform="translate(1090.0,980.9) scale(0.98,1)" font-size="47.5" text-anchor="middle" >60</text>
<text transform="translate(102.6,619.8) scale(0.98,1)" font-size="47.5" text-anchor="end" >0</text>
<text transform="translate(102.6,781.8) scale(0.98,1)" font-size="47.5" text-anchor="end" >5</text>
<text transform="translate(102.6,943.1) scale(0.98,1)" font-size="47.5" text-anchor="end" >10</text>
<text transform="translate(42.3,752.5) rotate(-90) scale(0.97,1)" font-size="51" text-anchor="middle">Depth (km)</text>
<text x="15" y="32.7" font-size="47" fill="#111" stroke="#111" stroke-width="1.1">a</text>
<text x="16" y="565.5" font-size="44" fill="#111" stroke="#111" stroke-width="1.3">b</text>
<text x="609.5" y="1027" font-size="49" text-anchor="middle" >Distance (km)</text>
<text x="1306" y="101.5" font-size="42" text-anchor="middle" textLength="144" lengthAdjust="spacingAndGlyphs">Velocity</text>
<text transform="translate(1306.4,149.5) scale(1.045,1)" font-size="42" text-anchor="middle">(km s<tspan font-size="25" dy="-16">−1</tspan><tspan dy="16">)</tspan></text>
<text x="1252.5" y="213.5" font-size="32" text-anchor="middle" >S</text>
<text x="1370.5" y="213.5" font-size="32" text-anchor="middle" >P</text>
<rect x="1296.2" y="260.5" width="22.0" height="34.0" fill="#5c7ec6"/>
<rect x="1296.2" y="294.0" width="22.0" height="34.0" fill="#5273c2"/>
<rect x="1296.2" y="327.6" width="22.0" height="34.0" fill="#5a80c8"/>
<rect x="1296.2" y="361.1" width="22.0" height="34.0" fill="#7cc4ee"/>
<rect x="1296.2" y="394.6" width="22.0" height="34.0" fill="#c0e5e2"/>
<rect x="1296.2" y="428.2" width="22.0" height="34.0" fill="#c6e1b8"/>
<rect x="1296.2" y="461.7" width="22.0" height="34.0" fill="#9dc62e"/>
<rect x="1296.2" y="495.2" width="22.0" height="34.0" fill="#a0c932"/>
<rect x="1296.2" y="528.8" width="22.0" height="34.0" fill="#a6cc36"/>
<rect x="1296.2" y="562.3" width="22.0" height="34.0" fill="#a8cd3e"/>
<rect x="1296.2" y="595.8" width="22.0" height="34.0" fill="#b4d240"/>
<rect x="1296.2" y="629.3" width="22.0" height="34.0" fill="#e2e23e"/>
<rect x="1296.2" y="662.9" width="22.0" height="34.0" fill="#f5e93a"/>
<rect x="1296.2" y="696.4" width="22.0" height="34.0" fill="#fbbf1e"/>
<rect x="1296.2" y="729.9" width="22.0" height="34.0" fill="#ee2a2a"/>
<rect x="1296.2" y="763.5" width="22.0" height="34.0" fill="#ec2226"/>
<line x1="1289.7" y1="294.0" x2="1318.2" y2="294.0" stroke="#1a1a10" stroke-width="2.4"/>
<line x1="1289.7" y1="327.6" x2="1318.2" y2="327.6" stroke="#1a1a10" stroke-width="2.4"/>
<line x1="1289.7" y1="361.1" x2="1318.2" y2="361.1" stroke="#1a1a10" stroke-width="2.4"/>
<line x1="1289.7" y1="394.6" x2="1318.2" y2="394.6" stroke="#1a1a10" stroke-width="2.4"/>
<line x1="1289.7" y1="428.2" x2="1318.2" y2="428.2" stroke="#1a1a10" stroke-width="2.4"/>
<line x1="1289.7" y1="461.7" x2="1318.2" y2="461.7" stroke="#1a1a10" stroke-width="2.4"/>
<line x1="1289.7" y1="495.2" x2="1318.2" y2="495.2" stroke="#1a1a10" stroke-width="2.4"/>
<line x1="1289.7" y1="528.8" x2="1318.2" y2="528.8" stroke="#1a1a10" stroke-width="2.4"/>
<line x1="1289.7" y1="562.3" x2="1318.2" y2="562.3" stroke="#1a1a10" stroke-width="2.4"/>
<line x1="1289.7" y1="595.8" x2="1318.2" y2="595.8" stroke="#1a1a10" stroke-width="2.4"/>
<line x1="1289.7" y1="629.3" x2="1318.2" y2="629.3" stroke="#1a1a10" stroke-width="2.4"/>
<line x1="1289.7" y1="662.9" x2="1318.2" y2="662.9" stroke="#1a1a10" stroke-width="2.4"/>
<line x1="1289.7" y1="696.4" x2="1318.2" y2="696.4" stroke="#1a1a10" stroke-width="2.4"/>
<line x1="1289.7" y1="729.9" x2="1318.2" y2="729.9" stroke="#1a1a10" stroke-width="2.4"/>
<line x1="1289.7" y1="763.5" x2="1318.2" y2="763.5" stroke="#1a1a10" stroke-width="2.4"/>
<rect x="1296.2" y="260.5" width="22.0" height="536.5" fill="none" stroke="#0a0a0a" stroke-width="5.4"/>
<text transform="translate(1274,273.8) scale(1.1,1)" font-size="34" text-anchor="end" >4.1</text>
<text transform="translate(1392,273.8) scale(1.1,1)" font-size="34" text-anchor="end" >7.1</text>
<text transform="translate(1274,307.3) scale(1.1,1)" font-size="34" text-anchor="end" >3.9</text>
<text transform="translate(1392,307.3) scale(1.1,1)" font-size="34" text-anchor="end" >6.9</text>
<text transform="translate(1274,340.8) scale(1.1,1)" font-size="34" text-anchor="end" >3.8</text>
<text transform="translate(1392,340.8) scale(1.1,1)" font-size="34" text-anchor="end" >6.8</text>
<text transform="translate(1274,374.3) scale(1.1,1)" font-size="34" text-anchor="end" >3.7</text>
<text transform="translate(1392,374.3) scale(1.1,1)" font-size="34" text-anchor="end" >6.6</text>
<text transform="translate(1274,407.8) scale(1.1,1)" font-size="34" text-anchor="end" >3.6</text>
<text transform="translate(1392,407.8) scale(1.1,1)" font-size="34" text-anchor="end" >6.4</text>
<text transform="translate(1274,441.3) scale(1.1,1)" font-size="34" text-anchor="end" >3.5</text>
<text transform="translate(1392,441.3) scale(1.1,1)" font-size="34" text-anchor="end" >6.2</text>
<text transform="translate(1274,474.8) scale(1.1,1)" font-size="34" text-anchor="end" >3.4</text>
<text transform="translate(1392,474.8) scale(1.1,1)" font-size="34" text-anchor="end" >6.0</text>
<text transform="translate(1274,508.3) scale(1.1,1)" font-size="34" text-anchor="end" >3.3</text>
<text transform="translate(1392,508.3) scale(1.1,1)" font-size="34" text-anchor="end" >5.9</text>
<text transform="translate(1274,541.8) scale(1.1,1)" font-size="34" text-anchor="end" >3.2</text>
<text transform="translate(1392,541.8) scale(1.1,1)" font-size="34" text-anchor="end" >5.7</text>
<text transform="translate(1274,575.3) scale(1.1,1)" font-size="34" text-anchor="end" >3.1</text>
<text transform="translate(1392,575.3) scale(1.1,1)" font-size="34" text-anchor="end" >5.5</text>
<text transform="translate(1274,608.8) scale(1.1,1)" font-size="34" text-anchor="end" >3.0</text>
<text transform="translate(1392,608.8) scale(1.1,1)" font-size="34" text-anchor="end" >5.3</text>
<text transform="translate(1274,642.3) scale(1.1,1)" font-size="34" text-anchor="end" >2.9</text>
<text transform="translate(1392,642.3) scale(1.1,1)" font-size="34" text-anchor="end" >5.2</text>
<text transform="translate(1274,675.8) scale(1.1,1)" font-size="34" text-anchor="end" >2.8</text>
<text transform="translate(1392,675.8) scale(1.1,1)" font-size="34" text-anchor="end" >5.0</text>
<text transform="translate(1274,709.3) scale(1.1,1)" font-size="34" text-anchor="end" >2.5</text>
<text transform="translate(1392,709.3) scale(1.1,1)" font-size="34" text-anchor="end" >4.4</text>
<text transform="translate(1274,742.8) scale(1.1,1)" font-size="34" text-anchor="end" >2.2</text>
<text transform="translate(1392,742.8) scale(1.1,1)" font-size="34" text-anchor="end" >3.9</text>
<text transform="translate(1274,776.3) scale(1.1,1)" font-size="34" text-anchor="end" >2.0</text>
<text transform="translate(1392,776.3) scale(1.1,1)" font-size="34" text-anchor="end" >3.6</text>
<text transform="translate(1274,809.8) scale(1.1,1)" font-size="34" text-anchor="end" >1.7</text>
<text transform="translate(1392,809.8) scale(1.1,1)" font-size="34" text-anchor="end" >3.0</text>
</g>
</svg>
</body></html>
